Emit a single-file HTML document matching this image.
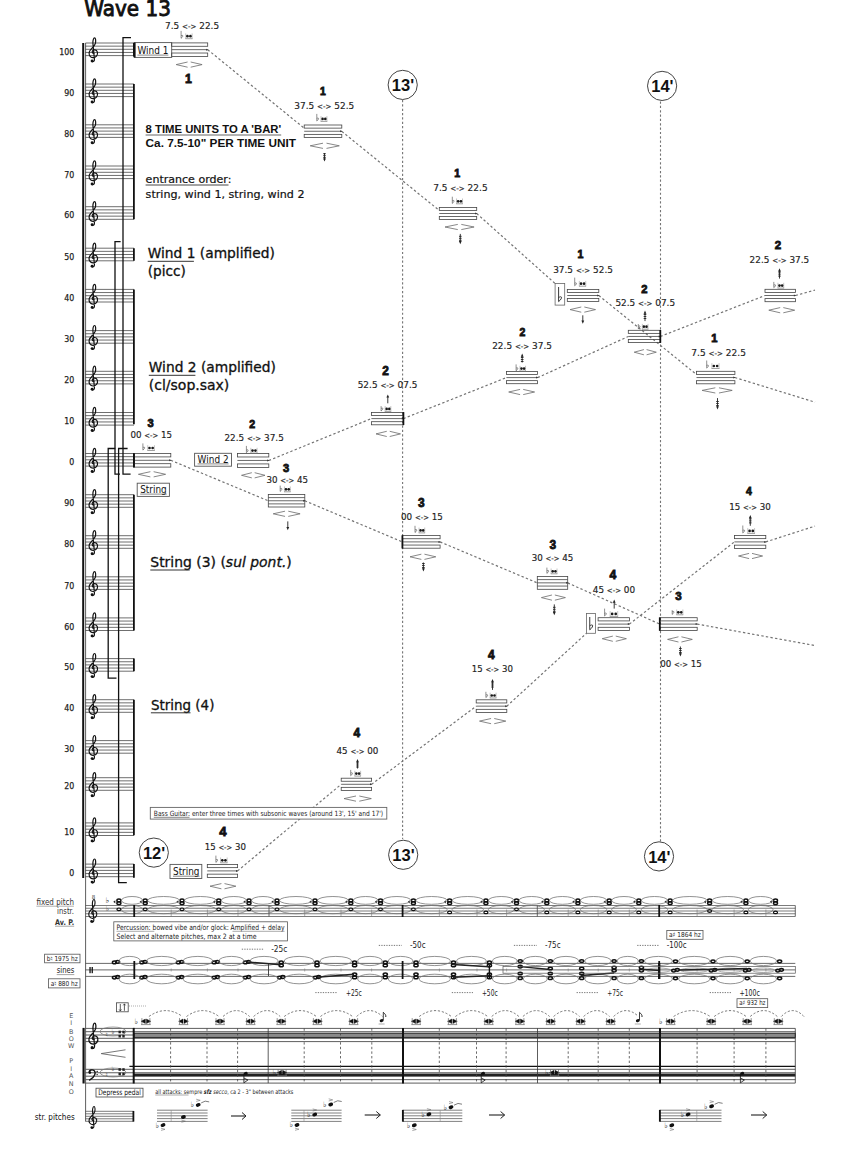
<!DOCTYPE html>
<html><head><meta charset="utf-8"><title>Wave 13</title><style>html,body{margin:0;padding:0;background:#fff;}svg{display:block;}</style></head><body>
<svg width="850" height="1154" viewBox="0 0 850 1154"><rect x="0" y="0" width="850" height="1154" fill="#fff"/>
<text x="84.3" y="15.9" font-size="21" font-family="'DejaVu Sans','Liberation Sans',sans-serif" fill="#111" textLength="86.6" lengthAdjust="spacingAndGlyphs" stroke="#111" stroke-width="0.9">Wave 13</text>
<line x1="85.5" y1="43" x2="134" y2="43" stroke="#555" stroke-width="0.85"/>
<line x1="85.5" y1="46.15" x2="134" y2="46.15" stroke="#555" stroke-width="0.85"/>
<line x1="85.5" y1="49.3" x2="134" y2="49.3" stroke="#555" stroke-width="0.85"/>
<line x1="85.5" y1="52.45" x2="134" y2="52.45" stroke="#555" stroke-width="0.85"/>
<line x1="85.5" y1="55.6" x2="134" y2="55.6" stroke="#555" stroke-width="0.85"/>
<g transform="translate(88.6 38.7) scale(1)"><path d="M5.6 14.6 C4.2 15 3.2 13.8 3.8 12.4 C4.6 10.6 8 10.6 8.8 13.4 C9.6 16.6 7 19.2 4.4 19 C1.6 18.8 0 16.4 0.6 13.6 C1.4 10.2 5.8 8.2 6.8 4.6 C7.4 2.2 7 -0.8 6 -0.8 C4.8 -0.8 4.2 1.8 4.3 4.6 L5.8 20.4 C6 22.2 5 23.2 3.9 23" fill="none" stroke="#111" stroke-width="1.2" stroke-linecap="round" stroke-linejoin="round"/><circle cx="3.5" cy="22.3" r="1.45" fill="#111"/></g>
<text x="74.3" y="54.7" font-size="9" font-family="'DejaVu Sans','Liberation Sans',sans-serif" fill="#222" text-anchor="end" textLength="15" lengthAdjust="spacingAndGlyphs" stroke="#222" stroke-width="0.25">100</text>
<line x1="85.5" y1="84" x2="134" y2="84" stroke="#555" stroke-width="0.85"/>
<line x1="85.5" y1="87.15" x2="134" y2="87.15" stroke="#555" stroke-width="0.85"/>
<line x1="85.5" y1="90.3" x2="134" y2="90.3" stroke="#555" stroke-width="0.85"/>
<line x1="85.5" y1="93.45" x2="134" y2="93.45" stroke="#555" stroke-width="0.85"/>
<line x1="85.5" y1="96.6" x2="134" y2="96.6" stroke="#555" stroke-width="0.85"/>
<g transform="translate(88.6 79.7) scale(1)"><path d="M5.6 14.6 C4.2 15 3.2 13.8 3.8 12.4 C4.6 10.6 8 10.6 8.8 13.4 C9.6 16.6 7 19.2 4.4 19 C1.6 18.8 0 16.4 0.6 13.6 C1.4 10.2 5.8 8.2 6.8 4.6 C7.4 2.2 7 -0.8 6 -0.8 C4.8 -0.8 4.2 1.8 4.3 4.6 L5.8 20.4 C6 22.2 5 23.2 3.9 23" fill="none" stroke="#111" stroke-width="1.2" stroke-linecap="round" stroke-linejoin="round"/><circle cx="3.5" cy="22.3" r="1.45" fill="#111"/></g>
<text x="74.3" y="95.7" font-size="9" font-family="'DejaVu Sans','Liberation Sans',sans-serif" fill="#222" text-anchor="end" textLength="10" lengthAdjust="spacingAndGlyphs" stroke="#222" stroke-width="0.25">90</text>
<line x1="85.5" y1="124.8" x2="134" y2="124.8" stroke="#555" stroke-width="0.85"/>
<line x1="85.5" y1="127.95" x2="134" y2="127.95" stroke="#555" stroke-width="0.85"/>
<line x1="85.5" y1="131.1" x2="134" y2="131.1" stroke="#555" stroke-width="0.85"/>
<line x1="85.5" y1="134.25" x2="134" y2="134.25" stroke="#555" stroke-width="0.85"/>
<line x1="85.5" y1="137.4" x2="134" y2="137.4" stroke="#555" stroke-width="0.85"/>
<g transform="translate(88.6 120.5) scale(1)"><path d="M5.6 14.6 C4.2 15 3.2 13.8 3.8 12.4 C4.6 10.6 8 10.6 8.8 13.4 C9.6 16.6 7 19.2 4.4 19 C1.6 18.8 0 16.4 0.6 13.6 C1.4 10.2 5.8 8.2 6.8 4.6 C7.4 2.2 7 -0.8 6 -0.8 C4.8 -0.8 4.2 1.8 4.3 4.6 L5.8 20.4 C6 22.2 5 23.2 3.9 23" fill="none" stroke="#111" stroke-width="1.2" stroke-linecap="round" stroke-linejoin="round"/><circle cx="3.5" cy="22.3" r="1.45" fill="#111"/></g>
<text x="74.3" y="136.5" font-size="9" font-family="'DejaVu Sans','Liberation Sans',sans-serif" fill="#222" text-anchor="end" textLength="10" lengthAdjust="spacingAndGlyphs" stroke="#222" stroke-width="0.25">80</text>
<line x1="85.5" y1="166" x2="134" y2="166" stroke="#555" stroke-width="0.85"/>
<line x1="85.5" y1="169.15" x2="134" y2="169.15" stroke="#555" stroke-width="0.85"/>
<line x1="85.5" y1="172.3" x2="134" y2="172.3" stroke="#555" stroke-width="0.85"/>
<line x1="85.5" y1="175.45" x2="134" y2="175.45" stroke="#555" stroke-width="0.85"/>
<line x1="85.5" y1="178.6" x2="134" y2="178.6" stroke="#555" stroke-width="0.85"/>
<g transform="translate(88.6 161.7) scale(1)"><path d="M5.6 14.6 C4.2 15 3.2 13.8 3.8 12.4 C4.6 10.6 8 10.6 8.8 13.4 C9.6 16.6 7 19.2 4.4 19 C1.6 18.8 0 16.4 0.6 13.6 C1.4 10.2 5.8 8.2 6.8 4.6 C7.4 2.2 7 -0.8 6 -0.8 C4.8 -0.8 4.2 1.8 4.3 4.6 L5.8 20.4 C6 22.2 5 23.2 3.9 23" fill="none" stroke="#111" stroke-width="1.2" stroke-linecap="round" stroke-linejoin="round"/><circle cx="3.5" cy="22.3" r="1.45" fill="#111"/></g>
<text x="74.3" y="177.7" font-size="9" font-family="'DejaVu Sans','Liberation Sans',sans-serif" fill="#222" text-anchor="end" textLength="10" lengthAdjust="spacingAndGlyphs" stroke="#222" stroke-width="0.25">70</text>
<line x1="85.5" y1="206.7" x2="134" y2="206.7" stroke="#555" stroke-width="0.85"/>
<line x1="85.5" y1="209.85" x2="134" y2="209.85" stroke="#555" stroke-width="0.85"/>
<line x1="85.5" y1="213" x2="134" y2="213" stroke="#555" stroke-width="0.85"/>
<line x1="85.5" y1="216.15" x2="134" y2="216.15" stroke="#555" stroke-width="0.85"/>
<line x1="85.5" y1="219.3" x2="134" y2="219.3" stroke="#555" stroke-width="0.85"/>
<g transform="translate(88.6 202.4) scale(1)"><path d="M5.6 14.6 C4.2 15 3.2 13.8 3.8 12.4 C4.6 10.6 8 10.6 8.8 13.4 C9.6 16.6 7 19.2 4.4 19 C1.6 18.8 0 16.4 0.6 13.6 C1.4 10.2 5.8 8.2 6.8 4.6 C7.4 2.2 7 -0.8 6 -0.8 C4.8 -0.8 4.2 1.8 4.3 4.6 L5.8 20.4 C6 22.2 5 23.2 3.9 23" fill="none" stroke="#111" stroke-width="1.2" stroke-linecap="round" stroke-linejoin="round"/><circle cx="3.5" cy="22.3" r="1.45" fill="#111"/></g>
<text x="74.3" y="218.4" font-size="9" font-family="'DejaVu Sans','Liberation Sans',sans-serif" fill="#222" text-anchor="end" textLength="10" lengthAdjust="spacingAndGlyphs" stroke="#222" stroke-width="0.25">60</text>
<line x1="85.5" y1="248.2" x2="134" y2="248.2" stroke="#555" stroke-width="0.85"/>
<line x1="85.5" y1="251.35" x2="134" y2="251.35" stroke="#555" stroke-width="0.85"/>
<line x1="85.5" y1="254.5" x2="134" y2="254.5" stroke="#555" stroke-width="0.85"/>
<line x1="85.5" y1="257.65" x2="134" y2="257.65" stroke="#555" stroke-width="0.85"/>
<line x1="85.5" y1="260.8" x2="134" y2="260.8" stroke="#555" stroke-width="0.85"/>
<g transform="translate(88.6 243.9) scale(1)"><path d="M5.6 14.6 C4.2 15 3.2 13.8 3.8 12.4 C4.6 10.6 8 10.6 8.8 13.4 C9.6 16.6 7 19.2 4.4 19 C1.6 18.8 0 16.4 0.6 13.6 C1.4 10.2 5.8 8.2 6.8 4.6 C7.4 2.2 7 -0.8 6 -0.8 C4.8 -0.8 4.2 1.8 4.3 4.6 L5.8 20.4 C6 22.2 5 23.2 3.9 23" fill="none" stroke="#111" stroke-width="1.2" stroke-linecap="round" stroke-linejoin="round"/><circle cx="3.5" cy="22.3" r="1.45" fill="#111"/></g>
<text x="74.3" y="259.9" font-size="9" font-family="'DejaVu Sans','Liberation Sans',sans-serif" fill="#222" text-anchor="end" textLength="10" lengthAdjust="spacingAndGlyphs" stroke="#222" stroke-width="0.25">50</text>
<line x1="85.5" y1="289.4" x2="134" y2="289.4" stroke="#555" stroke-width="0.85"/>
<line x1="85.5" y1="292.55" x2="134" y2="292.55" stroke="#555" stroke-width="0.85"/>
<line x1="85.5" y1="295.7" x2="134" y2="295.7" stroke="#555" stroke-width="0.85"/>
<line x1="85.5" y1="298.85" x2="134" y2="298.85" stroke="#555" stroke-width="0.85"/>
<line x1="85.5" y1="302" x2="134" y2="302" stroke="#555" stroke-width="0.85"/>
<g transform="translate(88.6 285.1) scale(1)"><path d="M5.6 14.6 C4.2 15 3.2 13.8 3.8 12.4 C4.6 10.6 8 10.6 8.8 13.4 C9.6 16.6 7 19.2 4.4 19 C1.6 18.8 0 16.4 0.6 13.6 C1.4 10.2 5.8 8.2 6.8 4.6 C7.4 2.2 7 -0.8 6 -0.8 C4.8 -0.8 4.2 1.8 4.3 4.6 L5.8 20.4 C6 22.2 5 23.2 3.9 23" fill="none" stroke="#111" stroke-width="1.2" stroke-linecap="round" stroke-linejoin="round"/><circle cx="3.5" cy="22.3" r="1.45" fill="#111"/></g>
<text x="74.3" y="301.1" font-size="9" font-family="'DejaVu Sans','Liberation Sans',sans-serif" fill="#222" text-anchor="end" textLength="10" lengthAdjust="spacingAndGlyphs" stroke="#222" stroke-width="0.25">40</text>
<line x1="85.5" y1="330.6" x2="134" y2="330.6" stroke="#555" stroke-width="0.85"/>
<line x1="85.5" y1="333.75" x2="134" y2="333.75" stroke="#555" stroke-width="0.85"/>
<line x1="85.5" y1="336.9" x2="134" y2="336.9" stroke="#555" stroke-width="0.85"/>
<line x1="85.5" y1="340.05" x2="134" y2="340.05" stroke="#555" stroke-width="0.85"/>
<line x1="85.5" y1="343.2" x2="134" y2="343.2" stroke="#555" stroke-width="0.85"/>
<g transform="translate(88.6 326.3) scale(1)"><path d="M5.6 14.6 C4.2 15 3.2 13.8 3.8 12.4 C4.6 10.6 8 10.6 8.8 13.4 C9.6 16.6 7 19.2 4.4 19 C1.6 18.8 0 16.4 0.6 13.6 C1.4 10.2 5.8 8.2 6.8 4.6 C7.4 2.2 7 -0.8 6 -0.8 C4.8 -0.8 4.2 1.8 4.3 4.6 L5.8 20.4 C6 22.2 5 23.2 3.9 23" fill="none" stroke="#111" stroke-width="1.2" stroke-linecap="round" stroke-linejoin="round"/><circle cx="3.5" cy="22.3" r="1.45" fill="#111"/></g>
<text x="74.3" y="342.3" font-size="9" font-family="'DejaVu Sans','Liberation Sans',sans-serif" fill="#222" text-anchor="end" textLength="10" lengthAdjust="spacingAndGlyphs" stroke="#222" stroke-width="0.25">30</text>
<line x1="85.5" y1="371.3" x2="134" y2="371.3" stroke="#555" stroke-width="0.85"/>
<line x1="85.5" y1="374.45" x2="134" y2="374.45" stroke="#555" stroke-width="0.85"/>
<line x1="85.5" y1="377.6" x2="134" y2="377.6" stroke="#555" stroke-width="0.85"/>
<line x1="85.5" y1="380.75" x2="134" y2="380.75" stroke="#555" stroke-width="0.85"/>
<line x1="85.5" y1="383.9" x2="134" y2="383.9" stroke="#555" stroke-width="0.85"/>
<g transform="translate(88.6 367) scale(1)"><path d="M5.6 14.6 C4.2 15 3.2 13.8 3.8 12.4 C4.6 10.6 8 10.6 8.8 13.4 C9.6 16.6 7 19.2 4.4 19 C1.6 18.8 0 16.4 0.6 13.6 C1.4 10.2 5.8 8.2 6.8 4.6 C7.4 2.2 7 -0.8 6 -0.8 C4.8 -0.8 4.2 1.8 4.3 4.6 L5.8 20.4 C6 22.2 5 23.2 3.9 23" fill="none" stroke="#111" stroke-width="1.2" stroke-linecap="round" stroke-linejoin="round"/><circle cx="3.5" cy="22.3" r="1.45" fill="#111"/></g>
<text x="74.3" y="383" font-size="9" font-family="'DejaVu Sans','Liberation Sans',sans-serif" fill="#222" text-anchor="end" textLength="10" lengthAdjust="spacingAndGlyphs" stroke="#222" stroke-width="0.25">20</text>
<line x1="85.5" y1="412.5" x2="134" y2="412.5" stroke="#555" stroke-width="0.85"/>
<line x1="85.5" y1="415.65" x2="134" y2="415.65" stroke="#555" stroke-width="0.85"/>
<line x1="85.5" y1="418.8" x2="134" y2="418.8" stroke="#555" stroke-width="0.85"/>
<line x1="85.5" y1="421.95" x2="134" y2="421.95" stroke="#555" stroke-width="0.85"/>
<line x1="85.5" y1="425.1" x2="134" y2="425.1" stroke="#555" stroke-width="0.85"/>
<g transform="translate(88.6 408.2) scale(1)"><path d="M5.6 14.6 C4.2 15 3.2 13.8 3.8 12.4 C4.6 10.6 8 10.6 8.8 13.4 C9.6 16.6 7 19.2 4.4 19 C1.6 18.8 0 16.4 0.6 13.6 C1.4 10.2 5.8 8.2 6.8 4.6 C7.4 2.2 7 -0.8 6 -0.8 C4.8 -0.8 4.2 1.8 4.3 4.6 L5.8 20.4 C6 22.2 5 23.2 3.9 23" fill="none" stroke="#111" stroke-width="1.2" stroke-linecap="round" stroke-linejoin="round"/><circle cx="3.5" cy="22.3" r="1.45" fill="#111"/></g>
<text x="74.3" y="424.2" font-size="9" font-family="'DejaVu Sans','Liberation Sans',sans-serif" fill="#222" text-anchor="end" textLength="10" lengthAdjust="spacingAndGlyphs" stroke="#222" stroke-width="0.25">10</text>
<line x1="85.5" y1="453.5" x2="134" y2="453.5" stroke="#555" stroke-width="0.85"/>
<line x1="85.5" y1="456.65" x2="134" y2="456.65" stroke="#555" stroke-width="0.85"/>
<line x1="85.5" y1="459.8" x2="134" y2="459.8" stroke="#555" stroke-width="0.85"/>
<line x1="85.5" y1="462.95" x2="134" y2="462.95" stroke="#555" stroke-width="0.85"/>
<line x1="85.5" y1="466.1" x2="134" y2="466.1" stroke="#555" stroke-width="0.85"/>
<g transform="translate(88.6 449.2) scale(1)"><path d="M5.6 14.6 C4.2 15 3.2 13.8 3.8 12.4 C4.6 10.6 8 10.6 8.8 13.4 C9.6 16.6 7 19.2 4.4 19 C1.6 18.8 0 16.4 0.6 13.6 C1.4 10.2 5.8 8.2 6.8 4.6 C7.4 2.2 7 -0.8 6 -0.8 C4.8 -0.8 4.2 1.8 4.3 4.6 L5.8 20.4 C6 22.2 5 23.2 3.9 23" fill="none" stroke="#111" stroke-width="1.2" stroke-linecap="round" stroke-linejoin="round"/><circle cx="3.5" cy="22.3" r="1.45" fill="#111"/></g>
<text x="74.3" y="465.2" font-size="9" font-family="'DejaVu Sans','Liberation Sans',sans-serif" fill="#222" text-anchor="end" textLength="5" lengthAdjust="spacingAndGlyphs" stroke="#222" stroke-width="0.25">0</text>
<line x1="85.5" y1="494.7" x2="134" y2="494.7" stroke="#555" stroke-width="0.85"/>
<line x1="85.5" y1="497.85" x2="134" y2="497.85" stroke="#555" stroke-width="0.85"/>
<line x1="85.5" y1="501" x2="134" y2="501" stroke="#555" stroke-width="0.85"/>
<line x1="85.5" y1="504.15" x2="134" y2="504.15" stroke="#555" stroke-width="0.85"/>
<line x1="85.5" y1="507.3" x2="134" y2="507.3" stroke="#555" stroke-width="0.85"/>
<g transform="translate(88.6 490.4) scale(1)"><path d="M5.6 14.6 C4.2 15 3.2 13.8 3.8 12.4 C4.6 10.6 8 10.6 8.8 13.4 C9.6 16.6 7 19.2 4.4 19 C1.6 18.8 0 16.4 0.6 13.6 C1.4 10.2 5.8 8.2 6.8 4.6 C7.4 2.2 7 -0.8 6 -0.8 C4.8 -0.8 4.2 1.8 4.3 4.6 L5.8 20.4 C6 22.2 5 23.2 3.9 23" fill="none" stroke="#111" stroke-width="1.2" stroke-linecap="round" stroke-linejoin="round"/><circle cx="3.5" cy="22.3" r="1.45" fill="#111"/></g>
<text x="74.3" y="506.4" font-size="9" font-family="'DejaVu Sans','Liberation Sans',sans-serif" fill="#222" text-anchor="end" textLength="10" lengthAdjust="spacingAndGlyphs" stroke="#222" stroke-width="0.25">90</text>
<line x1="85.5" y1="535.7" x2="134" y2="535.7" stroke="#555" stroke-width="0.85"/>
<line x1="85.5" y1="538.85" x2="134" y2="538.85" stroke="#555" stroke-width="0.85"/>
<line x1="85.5" y1="542" x2="134" y2="542" stroke="#555" stroke-width="0.85"/>
<line x1="85.5" y1="545.15" x2="134" y2="545.15" stroke="#555" stroke-width="0.85"/>
<line x1="85.5" y1="548.3" x2="134" y2="548.3" stroke="#555" stroke-width="0.85"/>
<g transform="translate(88.6 531.4) scale(1)"><path d="M5.6 14.6 C4.2 15 3.2 13.8 3.8 12.4 C4.6 10.6 8 10.6 8.8 13.4 C9.6 16.6 7 19.2 4.4 19 C1.6 18.8 0 16.4 0.6 13.6 C1.4 10.2 5.8 8.2 6.8 4.6 C7.4 2.2 7 -0.8 6 -0.8 C4.8 -0.8 4.2 1.8 4.3 4.6 L5.8 20.4 C6 22.2 5 23.2 3.9 23" fill="none" stroke="#111" stroke-width="1.2" stroke-linecap="round" stroke-linejoin="round"/><circle cx="3.5" cy="22.3" r="1.45" fill="#111"/></g>
<text x="74.3" y="547.4" font-size="9" font-family="'DejaVu Sans','Liberation Sans',sans-serif" fill="#222" text-anchor="end" textLength="10" lengthAdjust="spacingAndGlyphs" stroke="#222" stroke-width="0.25">80</text>
<line x1="85.5" y1="576.8" x2="134" y2="576.8" stroke="#555" stroke-width="0.85"/>
<line x1="85.5" y1="579.95" x2="134" y2="579.95" stroke="#555" stroke-width="0.85"/>
<line x1="85.5" y1="583.1" x2="134" y2="583.1" stroke="#555" stroke-width="0.85"/>
<line x1="85.5" y1="586.25" x2="134" y2="586.25" stroke="#555" stroke-width="0.85"/>
<line x1="85.5" y1="589.4" x2="134" y2="589.4" stroke="#555" stroke-width="0.85"/>
<g transform="translate(88.6 572.5) scale(1)"><path d="M5.6 14.6 C4.2 15 3.2 13.8 3.8 12.4 C4.6 10.6 8 10.6 8.8 13.4 C9.6 16.6 7 19.2 4.4 19 C1.6 18.8 0 16.4 0.6 13.6 C1.4 10.2 5.8 8.2 6.8 4.6 C7.4 2.2 7 -0.8 6 -0.8 C4.8 -0.8 4.2 1.8 4.3 4.6 L5.8 20.4 C6 22.2 5 23.2 3.9 23" fill="none" stroke="#111" stroke-width="1.2" stroke-linecap="round" stroke-linejoin="round"/><circle cx="3.5" cy="22.3" r="1.45" fill="#111"/></g>
<text x="74.3" y="588.5" font-size="9" font-family="'DejaVu Sans','Liberation Sans',sans-serif" fill="#222" text-anchor="end" textLength="10" lengthAdjust="spacingAndGlyphs" stroke="#222" stroke-width="0.25">70</text>
<line x1="85.5" y1="617.9" x2="134" y2="617.9" stroke="#555" stroke-width="0.85"/>
<line x1="85.5" y1="621.05" x2="134" y2="621.05" stroke="#555" stroke-width="0.85"/>
<line x1="85.5" y1="624.2" x2="134" y2="624.2" stroke="#555" stroke-width="0.85"/>
<line x1="85.5" y1="627.35" x2="134" y2="627.35" stroke="#555" stroke-width="0.85"/>
<line x1="85.5" y1="630.5" x2="134" y2="630.5" stroke="#555" stroke-width="0.85"/>
<g transform="translate(88.6 613.6) scale(1)"><path d="M5.6 14.6 C4.2 15 3.2 13.8 3.8 12.4 C4.6 10.6 8 10.6 8.8 13.4 C9.6 16.6 7 19.2 4.4 19 C1.6 18.8 0 16.4 0.6 13.6 C1.4 10.2 5.8 8.2 6.8 4.6 C7.4 2.2 7 -0.8 6 -0.8 C4.8 -0.8 4.2 1.8 4.3 4.6 L5.8 20.4 C6 22.2 5 23.2 3.9 23" fill="none" stroke="#111" stroke-width="1.2" stroke-linecap="round" stroke-linejoin="round"/><circle cx="3.5" cy="22.3" r="1.45" fill="#111"/></g>
<text x="74.3" y="629.6" font-size="9" font-family="'DejaVu Sans','Liberation Sans',sans-serif" fill="#222" text-anchor="end" textLength="10" lengthAdjust="spacingAndGlyphs" stroke="#222" stroke-width="0.25">60</text>
<line x1="85.5" y1="658.6" x2="134" y2="658.6" stroke="#555" stroke-width="0.85"/>
<line x1="85.5" y1="661.75" x2="134" y2="661.75" stroke="#555" stroke-width="0.85"/>
<line x1="85.5" y1="664.9" x2="134" y2="664.9" stroke="#555" stroke-width="0.85"/>
<line x1="85.5" y1="668.05" x2="134" y2="668.05" stroke="#555" stroke-width="0.85"/>
<line x1="85.5" y1="671.2" x2="134" y2="671.2" stroke="#555" stroke-width="0.85"/>
<g transform="translate(88.6 654.3) scale(1)"><path d="M5.6 14.6 C4.2 15 3.2 13.8 3.8 12.4 C4.6 10.6 8 10.6 8.8 13.4 C9.6 16.6 7 19.2 4.4 19 C1.6 18.8 0 16.4 0.6 13.6 C1.4 10.2 5.8 8.2 6.8 4.6 C7.4 2.2 7 -0.8 6 -0.8 C4.8 -0.8 4.2 1.8 4.3 4.6 L5.8 20.4 C6 22.2 5 23.2 3.9 23" fill="none" stroke="#111" stroke-width="1.2" stroke-linecap="round" stroke-linejoin="round"/><circle cx="3.5" cy="22.3" r="1.45" fill="#111"/></g>
<text x="74.3" y="670.3" font-size="9" font-family="'DejaVu Sans','Liberation Sans',sans-serif" fill="#222" text-anchor="end" textLength="10" lengthAdjust="spacingAndGlyphs" stroke="#222" stroke-width="0.25">50</text>
<line x1="85.5" y1="699.7" x2="134" y2="699.7" stroke="#555" stroke-width="0.85"/>
<line x1="85.5" y1="702.85" x2="134" y2="702.85" stroke="#555" stroke-width="0.85"/>
<line x1="85.5" y1="706" x2="134" y2="706" stroke="#555" stroke-width="0.85"/>
<line x1="85.5" y1="709.15" x2="134" y2="709.15" stroke="#555" stroke-width="0.85"/>
<line x1="85.5" y1="712.3" x2="134" y2="712.3" stroke="#555" stroke-width="0.85"/>
<g transform="translate(88.6 695.4) scale(1)"><path d="M5.6 14.6 C4.2 15 3.2 13.8 3.8 12.4 C4.6 10.6 8 10.6 8.8 13.4 C9.6 16.6 7 19.2 4.4 19 C1.6 18.8 0 16.4 0.6 13.6 C1.4 10.2 5.8 8.2 6.8 4.6 C7.4 2.2 7 -0.8 6 -0.8 C4.8 -0.8 4.2 1.8 4.3 4.6 L5.8 20.4 C6 22.2 5 23.2 3.9 23" fill="none" stroke="#111" stroke-width="1.2" stroke-linecap="round" stroke-linejoin="round"/><circle cx="3.5" cy="22.3" r="1.45" fill="#111"/></g>
<text x="74.3" y="711.4" font-size="9" font-family="'DejaVu Sans','Liberation Sans',sans-serif" fill="#222" text-anchor="end" textLength="10" lengthAdjust="spacingAndGlyphs" stroke="#222" stroke-width="0.25">40</text>
<line x1="85.5" y1="740.6" x2="134" y2="740.6" stroke="#555" stroke-width="0.85"/>
<line x1="85.5" y1="743.75" x2="134" y2="743.75" stroke="#555" stroke-width="0.85"/>
<line x1="85.5" y1="746.9" x2="134" y2="746.9" stroke="#555" stroke-width="0.85"/>
<line x1="85.5" y1="750.05" x2="134" y2="750.05" stroke="#555" stroke-width="0.85"/>
<line x1="85.5" y1="753.2" x2="134" y2="753.2" stroke="#555" stroke-width="0.85"/>
<g transform="translate(88.6 736.3) scale(1)"><path d="M5.6 14.6 C4.2 15 3.2 13.8 3.8 12.4 C4.6 10.6 8 10.6 8.8 13.4 C9.6 16.6 7 19.2 4.4 19 C1.6 18.8 0 16.4 0.6 13.6 C1.4 10.2 5.8 8.2 6.8 4.6 C7.4 2.2 7 -0.8 6 -0.8 C4.8 -0.8 4.2 1.8 4.3 4.6 L5.8 20.4 C6 22.2 5 23.2 3.9 23" fill="none" stroke="#111" stroke-width="1.2" stroke-linecap="round" stroke-linejoin="round"/><circle cx="3.5" cy="22.3" r="1.45" fill="#111"/></g>
<text x="74.3" y="752.3" font-size="9" font-family="'DejaVu Sans','Liberation Sans',sans-serif" fill="#222" text-anchor="end" textLength="10" lengthAdjust="spacingAndGlyphs" stroke="#222" stroke-width="0.25">30</text>
<line x1="85.5" y1="777.7" x2="134" y2="777.7" stroke="#555" stroke-width="0.85"/>
<line x1="85.5" y1="780.85" x2="134" y2="780.85" stroke="#555" stroke-width="0.85"/>
<line x1="85.5" y1="784" x2="134" y2="784" stroke="#555" stroke-width="0.85"/>
<line x1="85.5" y1="787.15" x2="134" y2="787.15" stroke="#555" stroke-width="0.85"/>
<line x1="85.5" y1="790.3" x2="134" y2="790.3" stroke="#555" stroke-width="0.85"/>
<g transform="translate(88.6 773.4) scale(1)"><path d="M5.6 14.6 C4.2 15 3.2 13.8 3.8 12.4 C4.6 10.6 8 10.6 8.8 13.4 C9.6 16.6 7 19.2 4.4 19 C1.6 18.8 0 16.4 0.6 13.6 C1.4 10.2 5.8 8.2 6.8 4.6 C7.4 2.2 7 -0.8 6 -0.8 C4.8 -0.8 4.2 1.8 4.3 4.6 L5.8 20.4 C6 22.2 5 23.2 3.9 23" fill="none" stroke="#111" stroke-width="1.2" stroke-linecap="round" stroke-linejoin="round"/><circle cx="3.5" cy="22.3" r="1.45" fill="#111"/></g>
<text x="74.3" y="789.4" font-size="9" font-family="'DejaVu Sans','Liberation Sans',sans-serif" fill="#222" text-anchor="end" textLength="10" lengthAdjust="spacingAndGlyphs" stroke="#222" stroke-width="0.25">20</text>
<line x1="85.5" y1="822.9" x2="134" y2="822.9" stroke="#555" stroke-width="0.85"/>
<line x1="85.5" y1="826.05" x2="134" y2="826.05" stroke="#555" stroke-width="0.85"/>
<line x1="85.5" y1="829.2" x2="134" y2="829.2" stroke="#555" stroke-width="0.85"/>
<line x1="85.5" y1="832.35" x2="134" y2="832.35" stroke="#555" stroke-width="0.85"/>
<line x1="85.5" y1="835.5" x2="134" y2="835.5" stroke="#555" stroke-width="0.85"/>
<g transform="translate(88.6 818.6) scale(1)"><path d="M5.6 14.6 C4.2 15 3.2 13.8 3.8 12.4 C4.6 10.6 8 10.6 8.8 13.4 C9.6 16.6 7 19.2 4.4 19 C1.6 18.8 0 16.4 0.6 13.6 C1.4 10.2 5.8 8.2 6.8 4.6 C7.4 2.2 7 -0.8 6 -0.8 C4.8 -0.8 4.2 1.8 4.3 4.6 L5.8 20.4 C6 22.2 5 23.2 3.9 23" fill="none" stroke="#111" stroke-width="1.2" stroke-linecap="round" stroke-linejoin="round"/><circle cx="3.5" cy="22.3" r="1.45" fill="#111"/></g>
<text x="74.3" y="834.6" font-size="9" font-family="'DejaVu Sans','Liberation Sans',sans-serif" fill="#222" text-anchor="end" textLength="10" lengthAdjust="spacingAndGlyphs" stroke="#222" stroke-width="0.25">10</text>
<line x1="85.5" y1="864.1" x2="134" y2="864.1" stroke="#555" stroke-width="0.85"/>
<line x1="85.5" y1="867.25" x2="134" y2="867.25" stroke="#555" stroke-width="0.85"/>
<line x1="85.5" y1="870.4" x2="134" y2="870.4" stroke="#555" stroke-width="0.85"/>
<line x1="85.5" y1="873.55" x2="134" y2="873.55" stroke="#555" stroke-width="0.85"/>
<line x1="85.5" y1="876.7" x2="134" y2="876.7" stroke="#555" stroke-width="0.85"/>
<g transform="translate(88.6 859.8) scale(1)"><path d="M5.6 14.6 C4.2 15 3.2 13.8 3.8 12.4 C4.6 10.6 8 10.6 8.8 13.4 C9.6 16.6 7 19.2 4.4 19 C1.6 18.8 0 16.4 0.6 13.6 C1.4 10.2 5.8 8.2 6.8 4.6 C7.4 2.2 7 -0.8 6 -0.8 C4.8 -0.8 4.2 1.8 4.3 4.6 L5.8 20.4 C6 22.2 5 23.2 3.9 23" fill="none" stroke="#111" stroke-width="1.2" stroke-linecap="round" stroke-linejoin="round"/><circle cx="3.5" cy="22.3" r="1.45" fill="#111"/></g>
<text x="74.3" y="875.8" font-size="9" font-family="'DejaVu Sans','Liberation Sans',sans-serif" fill="#222" text-anchor="end" textLength="5" lengthAdjust="spacingAndGlyphs" stroke="#222" stroke-width="0.25">0</text>
<line x1="83.2" y1="43" x2="83.2" y2="878" stroke="#111" stroke-width="2"/>
<line x1="85.6" y1="43" x2="85.6" y2="1121.5" stroke="#333" stroke-width="0.8"/>
<line x1="133.9" y1="43" x2="133.9" y2="56.4" stroke="#111" stroke-width="1.8"/>
<line x1="133.9" y1="84" x2="133.9" y2="219.3" stroke="#111" stroke-width="1.8"/>
<line x1="133.9" y1="248.2" x2="133.9" y2="260.8" stroke="#111" stroke-width="1.8"/>
<line x1="133.9" y1="289.4" x2="133.9" y2="424.2" stroke="#111" stroke-width="1.8"/>
<line x1="133.9" y1="453.5" x2="133.9" y2="467.1" stroke="#111" stroke-width="1.8"/>
<line x1="133.9" y1="494.7" x2="133.9" y2="630.4" stroke="#111" stroke-width="1.8"/>
<line x1="133.9" y1="658.6" x2="133.9" y2="671.2" stroke="#111" stroke-width="1.8"/>
<line x1="133.9" y1="699.7" x2="133.9" y2="835.2" stroke="#111" stroke-width="1.8"/>
<line x1="133.9" y1="864.1" x2="133.9" y2="877.7" stroke="#111" stroke-width="1.8"/>
<path d="M131 37.6 H123 V474.1 H130.6" fill="none" stroke="#111" stroke-width="1.3"/>
<path d="M120.6 241.6 H115 V474.1 H120" fill="none" stroke="#111" stroke-width="1.3"/>
<path d="M115.3 448.5 H108.2 V678.2 H116.5" fill="none" stroke="#111" stroke-width="1.3"/>
<path d="M127.6 448.5 H118.6 V882.6 H126.8" fill="none" stroke="#111" stroke-width="1.3"/>
<text x="145.6" y="132.8" font-size="11.1" font-family="'Liberation Sans',Arial,sans-serif" fill="#111" font-weight="bold" textLength="135.6" lengthAdjust="spacingAndGlyphs">8 TIME UNITS TO A 'BAR'</text>
<line x1="145.6" y1="135" x2="281.2" y2="135" stroke="#555" stroke-width="0.9"/>
<text x="145.6" y="147.2" font-size="11.1" font-family="'Liberation Sans',Arial,sans-serif" fill="#111" font-weight="bold" textLength="150.4" lengthAdjust="spacingAndGlyphs">Ca. 7.5-10" PER TIME UNIT</text>
<text x="145.6" y="183.1" font-size="10.6" font-family="'DejaVu Sans','Liberation Sans',sans-serif" fill="#111" textLength="85.8" lengthAdjust="spacingAndGlyphs" stroke="#111" stroke-width="0.2">entrance order:</text>
<line x1="145.6" y1="185" x2="228.5" y2="185" stroke="#333" stroke-width="0.9"/>
<text x="145.6" y="197.9" font-size="10.6" font-family="'DejaVu Sans','Liberation Sans',sans-serif" fill="#111" textLength="158.9" lengthAdjust="spacingAndGlyphs" stroke="#111" stroke-width="0.2">string, wind 1, string, wind 2</text>
<text x="147.7" y="258.3" font-size="13.3" font-family="'DejaVu Sans','Liberation Sans',sans-serif" fill="#111" textLength="127.1" lengthAdjust="spacingAndGlyphs" stroke="#111" stroke-width="0.3">Wind 1 (amplified)</text>
<line x1="147.7" y1="261.3" x2="193.9" y2="261.3" stroke="#333" stroke-width="1"/>
<text x="147.7" y="276.3" font-size="13.3" font-family="'DejaVu Sans','Liberation Sans',sans-serif" fill="#111" textLength="38.1" lengthAdjust="spacingAndGlyphs" stroke="#111" stroke-width="0.3">(picc)</text>
<text x="148.8" y="372.2" font-size="13.3" font-family="'DejaVu Sans','Liberation Sans',sans-serif" fill="#111" textLength="127.1" lengthAdjust="spacingAndGlyphs" stroke="#111" stroke-width="0.3">Wind 2 (amplified)</text>
<line x1="148.8" y1="375.3" x2="195.4" y2="375.3" stroke="#333" stroke-width="1"/>
<text x="148.8" y="390.3" font-size="13.3" font-family="'DejaVu Sans','Liberation Sans',sans-serif" fill="#111" textLength="80.5" lengthAdjust="spacingAndGlyphs" stroke="#111" stroke-width="0.3">(cl/sop.sax)</text>
<text x="150.3" y="567.1" font-size="13.3" font-family="'DejaVu Sans','Liberation Sans',sans-serif" fill="#111" stroke="#111" stroke-width="0.3" textLength="141.5" lengthAdjust="spacingAndGlyphs">String (3) (<tspan font-style="italic">sul pont.</tspan>)</text>
<line x1="150.3" y1="570" x2="189.7" y2="570" stroke="#333" stroke-width="1"/>
<text x="150.9" y="710.1" font-size="13.3" font-family="'DejaVu Sans','Liberation Sans',sans-serif" fill="#111" textLength="63.5" lengthAdjust="spacingAndGlyphs" stroke="#111" stroke-width="0.3">String (4)</text>
<line x1="150.9" y1="712.8" x2="190.5" y2="712.8" stroke="#333" stroke-width="1"/>
<line x1="402.6" y1="100" x2="402.6" y2="839" stroke="#747474" stroke-width="1.1" stroke-dasharray="2.2 2.14"/>
<line x1="660.5" y1="101.5" x2="660.5" y2="842" stroke="#747474" stroke-width="1.1" stroke-dasharray="2.2 2.14"/>
<circle cx="402.7" cy="84.9" r="14.6" fill="none" stroke="#444" stroke-width="1"/>
<text x="403" y="91.1" font-size="17" font-family="'Liberation Sans',Arial,sans-serif" fill="#111" text-anchor="middle" font-weight="bold" textLength="22.3" lengthAdjust="spacingAndGlyphs">13'</text>
<circle cx="403.2" cy="854.8" r="14.6" fill="none" stroke="#444" stroke-width="1"/>
<text x="403.5" y="861" font-size="17" font-family="'Liberation Sans',Arial,sans-serif" fill="#111" text-anchor="middle" font-weight="bold" textLength="22.3" lengthAdjust="spacingAndGlyphs">13'</text>
<circle cx="662.1" cy="85.9" r="14.6" fill="none" stroke="#444" stroke-width="1"/>
<text x="662.4" y="92.1" font-size="17" font-family="'Liberation Sans',Arial,sans-serif" fill="#111" text-anchor="middle" font-weight="bold" textLength="22.3" lengthAdjust="spacingAndGlyphs">14'</text>
<circle cx="659" cy="856.4" r="14.6" fill="none" stroke="#444" stroke-width="1"/>
<text x="659.3" y="862.6" font-size="17" font-family="'Liberation Sans',Arial,sans-serif" fill="#111" text-anchor="middle" font-weight="bold" textLength="22.3" lengthAdjust="spacingAndGlyphs">14'</text>
<circle cx="153.8" cy="852.6" r="14.6" fill="none" stroke="#444" stroke-width="1"/>
<text x="154.1" y="858.8" font-size="17" font-family="'Liberation Sans',Arial,sans-serif" fill="#111" text-anchor="middle" font-weight="bold" textLength="22.3" lengthAdjust="spacingAndGlyphs">12'</text>
<line x1="207.7" y1="49.7" x2="304.2" y2="128.2" stroke="#737373" stroke-width="1.2" stroke-dasharray="2.4 2.25"/>
<line x1="341.8" y1="131.4" x2="439.3" y2="210.5" stroke="#737373" stroke-width="1.2" stroke-dasharray="2.4 2.25"/>
<line x1="476.7" y1="213.5" x2="555.1" y2="283.5" stroke="#737373" stroke-width="1.2" stroke-dasharray="2.4 2.25"/>
<line x1="598.8" y1="295.5" x2="696.5" y2="374.5" stroke="#737373" stroke-width="1.2" stroke-dasharray="2.4 2.25"/>
<line x1="734.9" y1="377.5" x2="815" y2="402.2" stroke="#737373" stroke-width="1.2" stroke-dasharray="2.4 2.25"/>
<line x1="268.8" y1="460.5" x2="371.4" y2="418.6" stroke="#737373" stroke-width="1.2" stroke-dasharray="2.4 2.25"/>
<line x1="403.4" y1="418.6" x2="506.4" y2="377.6" stroke="#737373" stroke-width="1.2" stroke-dasharray="2.4 2.25"/>
<line x1="537.6" y1="377.6" x2="628.3" y2="336.5" stroke="#737373" stroke-width="1.2" stroke-dasharray="2.4 2.25"/>
<line x1="660.3" y1="336.5" x2="765" y2="295.5" stroke="#737373" stroke-width="1.2" stroke-dasharray="2.4 2.25"/>
<line x1="795.5" y1="295.5" x2="815" y2="290.1" stroke="#737373" stroke-width="1.2" stroke-dasharray="2.4 2.25"/>
<line x1="170.8" y1="460.3" x2="268.3" y2="500.8" stroke="#737373" stroke-width="1.2" stroke-dasharray="2.4 2.25"/>
<line x1="304.8" y1="500.8" x2="402.4" y2="541.9" stroke="#737373" stroke-width="1.2" stroke-dasharray="2.4 2.25"/>
<line x1="440.1" y1="541.9" x2="537.3" y2="582.9" stroke="#737373" stroke-width="1.2" stroke-dasharray="2.4 2.25"/>
<line x1="567.7" y1="582.9" x2="659.8" y2="624.1" stroke="#737373" stroke-width="1.2" stroke-dasharray="2.4 2.25"/>
<line x1="697.2" y1="624.1" x2="815" y2="645.5" stroke="#737373" stroke-width="1.2" stroke-dasharray="2.4 2.25"/>
<line x1="237.6" y1="870.9" x2="341.2" y2="784.3" stroke="#737373" stroke-width="1.2" stroke-dasharray="2.4 2.25"/>
<line x1="371.6" y1="784.3" x2="476.2" y2="706.2" stroke="#737373" stroke-width="1.2" stroke-dasharray="2.4 2.25"/>
<line x1="506.8" y1="706.2" x2="586.5" y2="633.3" stroke="#737373" stroke-width="1.2" stroke-dasharray="2.4 2.25"/>
<line x1="629.4" y1="624.1" x2="734.4" y2="541.9" stroke="#737373" stroke-width="1.2" stroke-dasharray="2.4 2.25"/>
<line x1="765.8" y1="541.9" x2="815" y2="526.1" stroke="#737373" stroke-width="1.2" stroke-dasharray="2.4 2.25"/>
<rect x="150.3" y="807.4" width="236.5" height="11.7" fill="#fff" stroke="#666" stroke-width="0.9"/>
<text x="153.8" y="816.3" font-size="7.2" font-family="'DejaVu Sans','Liberation Sans',sans-serif" fill="#222" textLength="229.4" lengthAdjust="spacingAndGlyphs">Bass Guitar: enter three times with subsonic waves (around 13', 15' and 17')</text>
<line x1="153.8" y1="817.3" x2="189.5" y2="817.3" stroke="#333" stroke-width="0.6"/>
<rect x="134.4" y="42.6" width="37.3" height="14.8" fill="none" stroke="#555" stroke-width="0.9"/>
<text x="137.4" y="54" font-size="9.6" font-family="'DejaVu Sans','Liberation Sans',sans-serif" fill="#111" textLength="31" lengthAdjust="spacingAndGlyphs">Wind 1</text>
<line x1="137.4" y1="55.1" x2="168.4" y2="55.1" stroke="#555" stroke-width="0.7"/>
<line x1="134.6" y1="42.6" x2="134.6" y2="57.4" stroke="#111" stroke-width="2"/>
<rect x="171.7" y="42.9" width="36" height="3.38" fill="none" stroke="#444" stroke-width="0.8"/>
<line x1="171.7" y1="49.65" x2="207.7" y2="49.65" stroke="#444" stroke-width="0.8"/>
<rect x="171.7" y="53.02" width="36" height="3.38" fill="none" stroke="#444" stroke-width="0.8"/>
<path d="M206.1 48.65 L208.3 49.65 L206.1 50.65 Z" fill="#333" stroke="none" stroke-width="1"/>
<text x="165" y="28.5" font-size="9.4" font-family="'DejaVu Sans','Liberation Sans',sans-serif" fill="#222" textLength="54.1" lengthAdjust="spacingAndGlyphs" stroke="#222" stroke-width="0.18">7.5 <tspan font-size="7.4">&lt;-&gt;</tspan> 22.5</text>
<path d="M181.1 30.9 V38.3 C183.5 36.5 183.3 34.5 181.1 35.7" fill="none" stroke="#444" stroke-width="0.6"/>
<circle cx="187.42" cy="36.2" r="1.35" fill="#1a1a1a"/>
<circle cx="190.45" cy="36.2" r="1.35" fill="#1a1a1a"/>
<line x1="185.33" y1="38.7" x2="192.54" y2="38.7" stroke="#777" stroke-width="0.7"/>
<line x1="185.73" y1="33.4" x2="185.73" y2="38.7" stroke="#888" stroke-width="0.5"/>
<line x1="192.14" y1="33.4" x2="192.14" y2="38.7" stroke="#888" stroke-width="0.5"/>
<path d="M187.6 62 L176.2 64.6 L187.6 67.2" fill="none" stroke="#6a6a6a" stroke-width="0.8"/>
<path d="M190.7 62 L202.1 64.6 L190.7 67.2" fill="none" stroke="#6a6a6a" stroke-width="0.8"/>
<text x="188.5" y="83.2" font-size="12.29" font-family="'Liberation Sans',Arial,sans-serif" fill="#111" text-anchor="middle" font-weight="bold" stroke="#111" stroke-width="0.8">1</text>
<rect x="304.2" y="125" width="37.6" height="3.12" fill="none" stroke="#444" stroke-width="0.8"/>
<line x1="304.2" y1="131.25" x2="341.8" y2="131.25" stroke="#444" stroke-width="0.8"/>
<rect x="304.2" y="134.38" width="37.6" height="3.12" fill="none" stroke="#444" stroke-width="0.8"/>
<path d="M340.2 130.25 L342.4 131.25 L340.2 132.25 Z" fill="#333" stroke="none" stroke-width="1"/>
<text x="322.9" y="94.8" font-size="10.34" font-family="'Liberation Sans',Arial,sans-serif" fill="#111" text-anchor="middle" font-weight="bold" stroke="#111" stroke-width="0.8">1</text>
<text x="294.3" y="108.6" font-size="9.4" font-family="'DejaVu Sans','Liberation Sans',sans-serif" fill="#222" textLength="59.9" lengthAdjust="spacingAndGlyphs" stroke="#222" stroke-width="0.18">37.5 <tspan font-size="7.4">&lt;-&gt;</tspan> 52.5</text>
<path d="M316.8 113.9 V121 C319.2 119.2 319 117.2 316.8 118.4" fill="none" stroke="#444" stroke-width="0.6"/>
<circle cx="322.56" cy="118.9" r="1.35" fill="#1a1a1a"/>
<circle cx="325.36" cy="118.9" r="1.35" fill="#1a1a1a"/>
<line x1="320.61" y1="121.4" x2="327.3" y2="121.4" stroke="#777" stroke-width="0.7"/>
<line x1="321.01" y1="116.1" x2="321.01" y2="121.4" stroke="#888" stroke-width="0.5"/>
<line x1="326.9" y1="116.1" x2="326.9" y2="121.4" stroke="#888" stroke-width="0.5"/>
<path d="M323 143.2 L310.2 145.8 L323 148.4" fill="none" stroke="#6a6a6a" stroke-width="0.8"/>
<path d="M326.5 143.2 L339.3 145.8 L326.5 148.4" fill="none" stroke="#6a6a6a" stroke-width="0.8"/>
<line x1="324.5" y1="153" x2="324.5" y2="159.1" stroke="#222" stroke-width="0.9"/>
<path d="M323.1 158.4 L324.5 161.6 L325.9 158.4 Z" fill="#222" stroke="none" stroke-width="1"/>
<line x1="323.2" y1="157.7" x2="325.8" y2="157.7" stroke="#222" stroke-width="0.9"/>
<line x1="323.2" y1="155.7" x2="325.8" y2="155.7" stroke="#222" stroke-width="0.9"/>
<line x1="323.2" y1="153.7" x2="325.8" y2="153.7" stroke="#222" stroke-width="0.9"/>
<rect x="439.3" y="207.5" width="37.4" height="3" fill="none" stroke="#444" stroke-width="0.8"/>
<line x1="439.3" y1="213.5" x2="476.7" y2="213.5" stroke="#444" stroke-width="0.8"/>
<rect x="439.3" y="216.5" width="37.4" height="3" fill="none" stroke="#444" stroke-width="0.8"/>
<path d="M475.1 212.5 L477.3 213.5 L475.1 214.5 Z" fill="#333" stroke="none" stroke-width="1"/>
<text x="457.2" y="176.5" font-size="10.61" font-family="'Liberation Sans',Arial,sans-serif" fill="#111" text-anchor="middle" font-weight="bold" stroke="#111" stroke-width="0.8">1</text>
<text x="433.2" y="190.9" font-size="9.4" font-family="'DejaVu Sans','Liberation Sans',sans-serif" fill="#222" textLength="54.4" lengthAdjust="spacingAndGlyphs" stroke="#222" stroke-width="0.18">7.5 <tspan font-size="7.4">&lt;-&gt;</tspan> 22.5</text>
<path d="M452.3 196.7 V203.4 C454.7 201.6 454.5 199.6 452.3 200.8" fill="none" stroke="#444" stroke-width="0.6"/>
<circle cx="458.11" cy="201.3" r="1.35" fill="#1a1a1a"/>
<circle cx="460.94" cy="201.3" r="1.35" fill="#1a1a1a"/>
<line x1="456.16" y1="203.8" x2="462.89" y2="203.8" stroke="#777" stroke-width="0.7"/>
<line x1="456.56" y1="198.5" x2="456.56" y2="203.8" stroke="#888" stroke-width="0.5"/>
<line x1="462.49" y1="198.5" x2="462.49" y2="203.8" stroke="#888" stroke-width="0.5"/>
<path d="M457.8 224.4 L445 227 L457.8 229.6" fill="none" stroke="#6a6a6a" stroke-width="0.8"/>
<path d="M461.3 224.4 L474.1 227 L461.3 229.6" fill="none" stroke="#6a6a6a" stroke-width="0.8"/>
<line x1="460.3" y1="233.9" x2="460.3" y2="241.7" stroke="#222" stroke-width="0.9"/>
<path d="M458.9 241 L460.3 244.2 L461.7 241 Z" fill="#222" stroke="none" stroke-width="1"/>
<line x1="459" y1="240.3" x2="461.6" y2="240.3" stroke="#222" stroke-width="0.9"/>
<line x1="459" y1="238.3" x2="461.6" y2="238.3" stroke="#222" stroke-width="0.9"/>
<line x1="459" y1="236.3" x2="461.6" y2="236.3" stroke="#222" stroke-width="0.9"/>
<rect x="567.3" y="289.4" width="31.5" height="3.05" fill="none" stroke="#444" stroke-width="0.8"/>
<line x1="567.3" y1="295.5" x2="598.8" y2="295.5" stroke="#444" stroke-width="0.8"/>
<rect x="567.3" y="298.55" width="31.5" height="3.05" fill="none" stroke="#444" stroke-width="0.8"/>
<path d="M597.2 294.5 L599.4 295.5 L597.2 296.5 Z" fill="#333" stroke="none" stroke-width="1"/>
<text x="580.5" y="258.4" font-size="10.61" font-family="'Liberation Sans',Arial,sans-serif" fill="#111" text-anchor="middle" font-weight="bold" stroke="#111" stroke-width="0.8">1</text>
<text x="553.2" y="273.4" font-size="9.4" font-family="'DejaVu Sans','Liberation Sans',sans-serif" fill="#222" textLength="59.7" lengthAdjust="spacingAndGlyphs" stroke="#222" stroke-width="0.18">37.5 <tspan font-size="7.4">&lt;-&gt;</tspan> 52.5</text>
<path d="M574.7 277.6 V285.8 C577.1 284 576.9 282 574.7 283.2" fill="none" stroke="#444" stroke-width="0.6"/>
<circle cx="581.02" cy="283.7" r="1.35" fill="#1a1a1a"/>
<circle cx="584.05" cy="283.7" r="1.35" fill="#1a1a1a"/>
<line x1="578.93" y1="286.2" x2="586.14" y2="286.2" stroke="#777" stroke-width="0.7"/>
<line x1="579.33" y1="280.9" x2="579.33" y2="286.2" stroke="#888" stroke-width="0.5"/>
<line x1="585.74" y1="280.9" x2="585.74" y2="286.2" stroke="#888" stroke-width="0.5"/>
<rect x="555.1" y="283.5" width="9.6" height="21.6" fill="none" stroke="#666" stroke-width="0.8"/>
<path d="M558.6 287 V301.6 C562.6 298.6 562.4 295.1 558.6 297.6" fill="none" stroke="#222" stroke-width="0.9"/>
<path d="M581.28 307 L570.1 309.6 L581.28 312.2" fill="none" stroke="#6a6a6a" stroke-width="0.8"/>
<path d="M584.32 307 L595.5 309.6 L584.32 312.2" fill="none" stroke="#6a6a6a" stroke-width="0.8"/>
<line x1="582.8" y1="315.3" x2="582.8" y2="321.3" stroke="#222" stroke-width="0.9"/>
<path d="M581.4 320.6 L582.8 323.8 L584.2 320.6 Z" fill="#222" stroke="none" stroke-width="1"/>
<rect x="696.5" y="371.3" width="38.4" height="3.12" fill="none" stroke="#444" stroke-width="0.8"/>
<line x1="696.5" y1="377.55" x2="734.9" y2="377.55" stroke="#444" stroke-width="0.8"/>
<rect x="696.5" y="380.68" width="38.4" height="3.12" fill="none" stroke="#444" stroke-width="0.8"/>
<path d="M733.3 376.55 L735.5 377.55 L733.3 378.55 Z" fill="#333" stroke="none" stroke-width="1"/>
<text x="714.4" y="342.1" font-size="11.17" font-family="'Liberation Sans',Arial,sans-serif" fill="#111" text-anchor="middle" font-weight="bold" stroke="#111" stroke-width="0.8">1</text>
<text x="691.3" y="355.8" font-size="9.4" font-family="'DejaVu Sans','Liberation Sans',sans-serif" fill="#222" textLength="54.6" lengthAdjust="spacingAndGlyphs" stroke="#222" stroke-width="0.18">7.5 <tspan font-size="7.4">&lt;-&gt;</tspan> 22.5</text>
<path d="M706.7 360.5 V368.1 C709.1 366.3 708.9 364.3 706.7 365.5" fill="none" stroke="#444" stroke-width="0.6"/>
<circle cx="713.8" cy="366" r="1.35" fill="#1a1a1a"/>
<circle cx="717.17" cy="366" r="1.35" fill="#1a1a1a"/>
<line x1="711.52" y1="368.5" x2="719.45" y2="368.5" stroke="#777" stroke-width="0.7"/>
<line x1="711.92" y1="363.2" x2="711.92" y2="368.5" stroke="#888" stroke-width="0.5"/>
<line x1="719.05" y1="363.2" x2="719.05" y2="368.5" stroke="#888" stroke-width="0.5"/>
<path d="M715.34 387.8 L702.1 390.4 L715.34 393" fill="none" stroke="#6a6a6a" stroke-width="0.8"/>
<path d="M718.96 387.8 L732.2 390.4 L718.96 393" fill="none" stroke="#6a6a6a" stroke-width="0.8"/>
<line x1="717.5" y1="398.1" x2="717.5" y2="406.9" stroke="#222" stroke-width="0.9"/>
<path d="M716.1 406.2 L717.5 409.4 L718.9 406.2 Z" fill="#222" stroke="none" stroke-width="1"/>
<line x1="716.2" y1="405.5" x2="718.8" y2="405.5" stroke="#222" stroke-width="0.9"/>
<line x1="716.2" y1="403.5" x2="718.8" y2="403.5" stroke="#222" stroke-width="0.9"/>
<line x1="716.2" y1="401.5" x2="718.8" y2="401.5" stroke="#222" stroke-width="0.9"/>
<rect x="194.6" y="453.3" width="36.9" height="12.9" fill="none" stroke="#555" stroke-width="0.9"/>
<text x="197.6" y="462.8" font-size="9.6" font-family="'DejaVu Sans','Liberation Sans',sans-serif" fill="#111" textLength="31" lengthAdjust="spacingAndGlyphs">Wind 2</text>
<line x1="197.6" y1="463.9" x2="228.6" y2="463.9" stroke="#555" stroke-width="0.7"/>
<rect x="237.4" y="453.5" width="31.4" height="3.48" fill="none" stroke="#444" stroke-width="0.8"/>
<line x1="237.4" y1="460.45" x2="268.8" y2="460.45" stroke="#444" stroke-width="0.8"/>
<rect x="237.4" y="463.92" width="31.4" height="3.48" fill="none" stroke="#444" stroke-width="0.8"/>
<path d="M267.2 459.45 L269.4 460.45 L267.2 461.45 Z" fill="#333" stroke="none" stroke-width="1"/>
<text x="252.3" y="427.6" font-size="10.61" font-family="'Liberation Sans',Arial,sans-serif" fill="#111" text-anchor="middle" font-weight="bold" stroke="#111" stroke-width="0.8">2</text>
<text x="224.4" y="440.8" font-size="9.4" font-family="'DejaVu Sans','Liberation Sans',sans-serif" fill="#222" textLength="59.4" lengthAdjust="spacingAndGlyphs" stroke="#222" stroke-width="0.18">22.5 <tspan font-size="7.4">&lt;-&gt;</tspan> 37.5</text>
<path d="M246.4 445.9 V452.7 C248.8 450.9 248.6 448.9 246.4 450.1" fill="none" stroke="#444" stroke-width="0.6"/>
<circle cx="252.49" cy="450.6" r="1.35" fill="#1a1a1a"/>
<circle cx="255.44" cy="450.6" r="1.35" fill="#1a1a1a"/>
<line x1="250.47" y1="453.1" x2="257.46" y2="453.1" stroke="#777" stroke-width="0.7"/>
<line x1="250.87" y1="447.8" x2="250.87" y2="453.1" stroke="#888" stroke-width="0.5"/>
<line x1="257.06" y1="447.8" x2="257.06" y2="453.1" stroke="#888" stroke-width="0.5"/>
<path d="M251.84 472.7 L241.5 475.3 L251.84 477.9" fill="none" stroke="#6a6a6a" stroke-width="0.8"/>
<path d="M254.66 472.7 L265 475.3 L254.66 477.9" fill="none" stroke="#6a6a6a" stroke-width="0.8"/>
<rect x="371.4" y="412.4" width="32" height="3.1" fill="none" stroke="#444" stroke-width="0.8"/>
<line x1="371.4" y1="418.6" x2="403.4" y2="418.6" stroke="#444" stroke-width="0.8"/>
<rect x="371.4" y="421.7" width="32" height="3.1" fill="none" stroke="#444" stroke-width="0.8"/>
<path d="M401.8 417.6 L404 418.6 L401.8 419.6 Z" fill="#333" stroke="none" stroke-width="1"/>
<line x1="403.4" y1="412.1" x2="403.4" y2="425.1" stroke="#111" stroke-width="1.8"/>
<text x="385.5" y="374.6" font-size="11.87" font-family="'Liberation Sans',Arial,sans-serif" fill="#111" text-anchor="middle" font-weight="bold" stroke="#111" stroke-width="0.8">2</text>
<text x="357.7" y="388.2" font-size="9.4" font-family="'DejaVu Sans','Liberation Sans',sans-serif" fill="#222" textLength="59.8" lengthAdjust="spacingAndGlyphs" stroke="#222" stroke-width="0.18">52.5 <tspan font-size="7.4">&lt;-&gt;</tspan> 07.5</text>
<line x1="387.8" y1="396.9" x2="387.8" y2="403.3" stroke="#222" stroke-width="0.9"/>
<path d="M386.4 397.6 L387.8 394.4 L389.2 397.6 Z" fill="#222" stroke="none" stroke-width="1"/>
<path d="M381.1 406.1 V411 C383.5 409.2 383.3 407.2 381.1 408.4" fill="none" stroke="#444" stroke-width="0.6"/>
<circle cx="386.63" cy="408.9" r="1.35" fill="#1a1a1a"/>
<circle cx="389.34" cy="408.9" r="1.35" fill="#1a1a1a"/>
<line x1="384.75" y1="411.4" x2="391.22" y2="411.4" stroke="#777" stroke-width="0.7"/>
<line x1="385.15" y1="406.1" x2="385.15" y2="411.4" stroke="#888" stroke-width="0.5"/>
<line x1="390.82" y1="406.1" x2="390.82" y2="411.4" stroke="#888" stroke-width="0.5"/>
<path d="M386.78 431.3 L376 433.9 L386.78 436.5" fill="none" stroke="#6a6a6a" stroke-width="0.8"/>
<path d="M389.72 431.3 L400.5 433.9 L389.72 436.5" fill="none" stroke="#6a6a6a" stroke-width="0.8"/>
<rect x="506.4" y="371.5" width="31.2" height="3.05" fill="none" stroke="#444" stroke-width="0.8"/>
<line x1="506.4" y1="377.6" x2="537.6" y2="377.6" stroke="#444" stroke-width="0.8"/>
<rect x="506.4" y="380.65" width="31.2" height="3.05" fill="none" stroke="#444" stroke-width="0.8"/>
<path d="M536 376.6 L538.2 377.6 L536 378.6 Z" fill="#333" stroke="none" stroke-width="1"/>
<text x="522.4" y="335.7" font-size="10.47" font-family="'Liberation Sans',Arial,sans-serif" fill="#111" text-anchor="middle" font-weight="bold" stroke="#111" stroke-width="0.8">2</text>
<text x="492.2" y="349.4" font-size="9.4" font-family="'DejaVu Sans','Liberation Sans',sans-serif" fill="#222" textLength="59.8" lengthAdjust="spacingAndGlyphs" stroke="#222" stroke-width="0.18">22.5 <tspan font-size="7.4">&lt;-&gt;</tspan> 37.5</text>
<line x1="522.2" y1="356.1" x2="522.2" y2="362.5" stroke="#222" stroke-width="0.9"/>
<path d="M520.8 356.8 L522.2 353.6 L523.6 356.8 Z" fill="#222" stroke="none" stroke-width="1"/>
<line x1="520.9" y1="357.5" x2="523.5" y2="357.5" stroke="#222" stroke-width="0.9"/>
<line x1="520.9" y1="359.5" x2="523.5" y2="359.5" stroke="#222" stroke-width="0.9"/>
<line x1="520.9" y1="361.5" x2="523.5" y2="361.5" stroke="#222" stroke-width="0.9"/>
<path d="M516.1 364.4 V370.7 C518.5 368.9 518.3 366.9 516.1 368.1" fill="none" stroke="#444" stroke-width="0.6"/>
<circle cx="521.46" cy="368.6" r="1.35" fill="#1a1a1a"/>
<circle cx="524.1" cy="368.6" r="1.35" fill="#1a1a1a"/>
<line x1="519.62" y1="371.1" x2="525.94" y2="371.1" stroke="#777" stroke-width="0.7"/>
<line x1="520.02" y1="365.8" x2="520.02" y2="371.1" stroke="#888" stroke-width="0.5"/>
<line x1="525.54" y1="365.8" x2="525.54" y2="371.1" stroke="#888" stroke-width="0.5"/>
<path d="M520.1 389.4 L508.7 392 L520.1 394.6" fill="none" stroke="#6a6a6a" stroke-width="0.8"/>
<path d="M523.2 389.4 L534.6 392 L523.2 394.6" fill="none" stroke="#6a6a6a" stroke-width="0.8"/>
<rect x="628.3" y="330.3" width="32" height="3.07" fill="none" stroke="#444" stroke-width="0.8"/>
<line x1="628.3" y1="336.45" x2="660.3" y2="336.45" stroke="#444" stroke-width="0.8"/>
<rect x="628.3" y="339.53" width="32" height="3.07" fill="none" stroke="#444" stroke-width="0.8"/>
<path d="M658.7 335.45 L660.9 336.45 L658.7 337.45 Z" fill="#333" stroke="none" stroke-width="1"/>
<line x1="660.3" y1="330" x2="660.3" y2="342.9" stroke="#111" stroke-width="1.8"/>
<text x="644.3" y="293.4" font-size="11.17" font-family="'Liberation Sans',Arial,sans-serif" fill="#111" text-anchor="middle" font-weight="bold" stroke="#111" stroke-width="0.8">2</text>
<text x="615.4" y="306.1" font-size="9.4" font-family="'DejaVu Sans','Liberation Sans',sans-serif" fill="#222" textLength="59.7" lengthAdjust="spacingAndGlyphs" stroke="#222" stroke-width="0.18">52.5 <tspan font-size="7.4">&lt;-&gt;</tspan> 07.5</text>
<line x1="645" y1="313.1" x2="645" y2="321.1" stroke="#222" stroke-width="0.9"/>
<path d="M643.6 313.8 L645 310.6 L646.4 313.8 Z" fill="#222" stroke="none" stroke-width="1"/>
<line x1="643.7" y1="314.5" x2="646.3" y2="314.5" stroke="#222" stroke-width="0.9"/>
<line x1="643.7" y1="316.5" x2="646.3" y2="316.5" stroke="#222" stroke-width="0.9"/>
<line x1="643.7" y1="318.5" x2="646.3" y2="318.5" stroke="#222" stroke-width="0.9"/>
<path d="M638.3 324 V328.8 C640.7 327 640.5 325 638.3 326.2" fill="none" stroke="#444" stroke-width="0.6"/>
<circle cx="643.83" cy="326.7" r="1.35" fill="#1a1a1a"/>
<circle cx="646.54" cy="326.7" r="1.35" fill="#1a1a1a"/>
<line x1="641.95" y1="329.2" x2="648.42" y2="329.2" stroke="#777" stroke-width="0.7"/>
<line x1="642.35" y1="323.9" x2="642.35" y2="329.2" stroke="#888" stroke-width="0.5"/>
<line x1="648.02" y1="323.9" x2="648.02" y2="329.2" stroke="#888" stroke-width="0.5"/>
<path d="M643.92 349.6 L634.2 352.2 L643.92 354.8" fill="none" stroke="#6a6a6a" stroke-width="0.8"/>
<path d="M646.58 349.6 L656.3 352.2 L646.58 354.8" fill="none" stroke="#6a6a6a" stroke-width="0.8"/>
<rect x="765" y="289.3" width="30.5" height="3.1" fill="none" stroke="#444" stroke-width="0.8"/>
<line x1="765" y1="295.5" x2="795.5" y2="295.5" stroke="#444" stroke-width="0.8"/>
<rect x="765" y="298.6" width="30.5" height="3.1" fill="none" stroke="#444" stroke-width="0.8"/>
<path d="M793.9 294.5 L796.1 295.5 L793.9 296.5 Z" fill="#333" stroke="none" stroke-width="1"/>
<text x="777.9" y="249" font-size="11.59" font-family="'Liberation Sans',Arial,sans-serif" fill="#111" text-anchor="middle" font-weight="bold" stroke="#111" stroke-width="0.8">2</text>
<text x="749.6" y="262.5" font-size="9.4" font-family="'DejaVu Sans','Liberation Sans',sans-serif" fill="#222" textLength="59.6" lengthAdjust="spacingAndGlyphs" stroke="#222" stroke-width="0.18">22.5 <tspan font-size="7.4">&lt;-&gt;</tspan> 37.5</text>
<line x1="779.5" y1="270.7" x2="779.5" y2="278.6" stroke="#222" stroke-width="0.9"/>
<path d="M778.1 271.4 L779.5 268.2 L780.9 271.4 Z" fill="#222" stroke="none" stroke-width="1"/>
<line x1="778.2" y1="272.1" x2="780.8" y2="272.1" stroke="#222" stroke-width="0.9"/>
<line x1="778.2" y1="274.1" x2="780.8" y2="274.1" stroke="#222" stroke-width="0.9"/>
<line x1="778.2" y1="276.1" x2="780.8" y2="276.1" stroke="#222" stroke-width="0.9"/>
<path d="M773.8 281.9 V287.7 C776.2 285.9 776 283.9 773.8 285.1" fill="none" stroke="#444" stroke-width="0.6"/>
<circle cx="779.44" cy="285.6" r="1.35" fill="#1a1a1a"/>
<circle cx="782.2" cy="285.6" r="1.35" fill="#1a1a1a"/>
<line x1="777.53" y1="288.1" x2="784.11" y2="288.1" stroke="#777" stroke-width="0.7"/>
<line x1="777.93" y1="282.8" x2="777.93" y2="288.1" stroke="#888" stroke-width="0.5"/>
<line x1="783.71" y1="282.8" x2="783.71" y2="288.1" stroke="#888" stroke-width="0.5"/>
<path d="M780.2 307.6 L768.8 310.2 L780.2 312.8" fill="none" stroke="#6a6a6a" stroke-width="0.8"/>
<path d="M783.3 307.6 L794.7 310.2 L783.3 312.8" fill="none" stroke="#6a6a6a" stroke-width="0.8"/>
<rect x="133.9" y="453.5" width="36.9" height="3.4" fill="none" stroke="#444" stroke-width="0.8"/>
<line x1="133.9" y1="460.3" x2="170.8" y2="460.3" stroke="#444" stroke-width="0.8"/>
<rect x="133.9" y="463.7" width="36.9" height="3.4" fill="none" stroke="#444" stroke-width="0.8"/>
<path d="M169.2 459.3 L171.4 460.3 L169.2 461.3 Z" fill="#333" stroke="none" stroke-width="1"/>
<line x1="133.9" y1="453.2" x2="133.9" y2="467.4" stroke="#111" stroke-width="1.8"/>
<text x="150.6" y="426.9" font-size="11.17" font-family="'Liberation Sans',Arial,sans-serif" fill="#111" text-anchor="middle" font-weight="bold" stroke="#111" stroke-width="0.8">3</text>
<text x="130.4" y="438.2" font-size="9.4" font-family="'DejaVu Sans','Liberation Sans',sans-serif" fill="#222" textLength="41.6" lengthAdjust="spacingAndGlyphs" stroke="#222" stroke-width="0.18">00 <tspan font-size="7.4">&lt;-&gt;</tspan> 15</text>
<path d="M142.9 443.4 V450.1 C145.3 448.3 145.1 446.3 142.9 447.5" fill="none" stroke="#444" stroke-width="0.6"/>
<circle cx="149.5" cy="448" r="1.35" fill="#1a1a1a"/>
<circle cx="152.65" cy="448" r="1.35" fill="#1a1a1a"/>
<line x1="147.34" y1="450.5" x2="154.81" y2="450.5" stroke="#777" stroke-width="0.7"/>
<line x1="147.74" y1="445.2" x2="147.74" y2="450.5" stroke="#888" stroke-width="0.5"/>
<line x1="154.41" y1="445.2" x2="154.41" y2="450.5" stroke="#888" stroke-width="0.5"/>
<path d="M150.37 471.7 L138.4 474.3 L150.37 476.9" fill="none" stroke="#6a6a6a" stroke-width="0.8"/>
<path d="M153.63 471.7 L165.6 474.3 L153.63 476.9" fill="none" stroke="#6a6a6a" stroke-width="0.8"/>
<rect x="137.2" y="483.2" width="32.2" height="13.2" fill="none" stroke="#555" stroke-width="0.9"/>
<text x="140.2" y="493" font-size="10" font-family="'DejaVu Sans','Liberation Sans',sans-serif" fill="#111" textLength="26.5" lengthAdjust="spacingAndGlyphs">String</text>
<line x1="140.2" y1="494.1" x2="166.7" y2="494.1" stroke="#555" stroke-width="0.7"/>
<rect x="268.3" y="494.5" width="36.5" height="12.5" fill="none" stroke="#444" stroke-width="0.8"/>
<line x1="268.3" y1="497.62" x2="304.8" y2="497.62" stroke="#444" stroke-width="0.8"/>
<line x1="268.3" y1="500.75" x2="304.8" y2="500.75" stroke="#444" stroke-width="0.8"/>
<line x1="268.3" y1="503.88" x2="304.8" y2="503.88" stroke="#444" stroke-width="0.8"/>
<path d="M303.2 499.75 L305.4 500.75 L303.2 501.75 Z" fill="#333" stroke="none" stroke-width="1"/>
<text x="286.2" y="471.9" font-size="11.17" font-family="'Liberation Sans',Arial,sans-serif" fill="#111" text-anchor="middle" font-weight="bold" stroke="#111" stroke-width="0.8">3</text>
<text x="266.5" y="482.8" font-size="9.4" font-family="'DejaVu Sans','Liberation Sans',sans-serif" fill="#222" textLength="41.6" lengthAdjust="spacingAndGlyphs" stroke="#222" stroke-width="0.18">30 <tspan font-size="7.4">&lt;-&gt;</tspan> 45</text>
<path d="M280.2 485.6 V491.4 C282.6 489.6 282.4 487.6 280.2 488.8" fill="none" stroke="#444" stroke-width="0.6"/>
<circle cx="285.96" cy="489.3" r="1.35" fill="#1a1a1a"/>
<circle cx="288.76" cy="489.3" r="1.35" fill="#1a1a1a"/>
<line x1="284.01" y1="491.8" x2="290.7" y2="491.8" stroke="#777" stroke-width="0.7"/>
<line x1="284.41" y1="486.5" x2="284.41" y2="491.8" stroke="#888" stroke-width="0.5"/>
<line x1="290.3" y1="486.5" x2="290.3" y2="491.8" stroke="#888" stroke-width="0.5"/>
<path d="M285.04 511.2 L273.2 513.8 L285.04 516.4" fill="none" stroke="#6a6a6a" stroke-width="0.8"/>
<path d="M288.26 511.2 L300.1 513.8 L288.26 516.4" fill="none" stroke="#6a6a6a" stroke-width="0.8"/>
<line x1="287.8" y1="521.4" x2="287.8" y2="527.8" stroke="#222" stroke-width="0.9"/>
<path d="M286.4 527.1 L287.8 530.3 L289.2 527.1 Z" fill="#222" stroke="none" stroke-width="1"/>
<rect x="402.4" y="535.6" width="37.7" height="3.15" fill="none" stroke="#444" stroke-width="0.8"/>
<line x1="402.4" y1="541.9" x2="440.1" y2="541.9" stroke="#444" stroke-width="0.8"/>
<rect x="402.4" y="545.05" width="37.7" height="3.15" fill="none" stroke="#444" stroke-width="0.8"/>
<path d="M438.5 540.9 L440.7 541.9 L438.5 542.9 Z" fill="#333" stroke="none" stroke-width="1"/>
<line x1="402.4" y1="535.3" x2="402.4" y2="548.5" stroke="#111" stroke-width="1.8"/>
<text x="421.2" y="507.4" font-size="11.87" font-family="'Liberation Sans',Arial,sans-serif" fill="#111" text-anchor="middle" font-weight="bold" stroke="#111" stroke-width="0.8">3</text>
<text x="401" y="519.6" font-size="9.4" font-family="'DejaVu Sans','Liberation Sans',sans-serif" fill="#222" textLength="41.9" lengthAdjust="spacingAndGlyphs" stroke="#222" stroke-width="0.18">00 <tspan font-size="7.4">&lt;-&gt;</tspan> 15</text>
<path d="M415 525.8 V532.5 C417.4 530.7 417.2 528.7 415 529.9" fill="none" stroke="#444" stroke-width="0.6"/>
<circle cx="420.53" cy="530.4" r="1.35" fill="#1a1a1a"/>
<circle cx="423.24" cy="530.4" r="1.35" fill="#1a1a1a"/>
<line x1="418.65" y1="532.9" x2="425.12" y2="532.9" stroke="#777" stroke-width="0.7"/>
<line x1="419.05" y1="527.6" x2="419.05" y2="532.9" stroke="#888" stroke-width="0.5"/>
<line x1="424.72" y1="527.6" x2="424.72" y2="532.9" stroke="#888" stroke-width="0.5"/>
<path d="M421.35 554.2 L410 556.8 L421.35 559.4" fill="none" stroke="#6a6a6a" stroke-width="0.8"/>
<path d="M424.45 554.2 L435.8 556.8 L424.45 559.4" fill="none" stroke="#6a6a6a" stroke-width="0.8"/>
<line x1="423.4" y1="562.5" x2="423.4" y2="568.9" stroke="#222" stroke-width="0.9"/>
<path d="M422 568.2 L423.4 571.4 L424.8 568.2 Z" fill="#222" stroke="none" stroke-width="1"/>
<line x1="422.1" y1="567.5" x2="424.7" y2="567.5" stroke="#222" stroke-width="0.9"/>
<line x1="422.1" y1="565.5" x2="424.7" y2="565.5" stroke="#222" stroke-width="0.9"/>
<line x1="422.1" y1="563.5" x2="424.7" y2="563.5" stroke="#222" stroke-width="0.9"/>
<rect x="537.3" y="576.4" width="30.4" height="12.9" fill="none" stroke="#444" stroke-width="0.8"/>
<line x1="537.3" y1="579.62" x2="567.7" y2="579.62" stroke="#444" stroke-width="0.8"/>
<line x1="537.3" y1="582.85" x2="567.7" y2="582.85" stroke="#444" stroke-width="0.8"/>
<line x1="537.3" y1="586.07" x2="567.7" y2="586.07" stroke="#444" stroke-width="0.8"/>
<path d="M566.1 581.85 L568.3 582.85 L566.1 583.85 Z" fill="#333" stroke="none" stroke-width="1"/>
<text x="552.9" y="549.3" font-size="11.87" font-family="'Liberation Sans',Arial,sans-serif" fill="#111" text-anchor="middle" font-weight="bold" stroke="#111" stroke-width="0.8">3</text>
<text x="531.8" y="561.1" font-size="9.4" font-family="'DejaVu Sans','Liberation Sans',sans-serif" fill="#222" textLength="41.6" lengthAdjust="spacingAndGlyphs" stroke="#222" stroke-width="0.18">30 <tspan font-size="7.4">&lt;-&gt;</tspan> 45</text>
<path d="M546.9 567.6 V573.4 C549.3 571.6 549.1 569.6 546.9 570.8" fill="none" stroke="#444" stroke-width="0.6"/>
<circle cx="552.66" cy="571.3" r="1.35" fill="#1a1a1a"/>
<circle cx="555.46" cy="571.3" r="1.35" fill="#1a1a1a"/>
<line x1="550.71" y1="573.8" x2="557.4" y2="573.8" stroke="#777" stroke-width="0.7"/>
<line x1="551.11" y1="568.5" x2="551.11" y2="573.8" stroke="#888" stroke-width="0.5"/>
<line x1="557" y1="568.5" x2="557" y2="573.8" stroke="#888" stroke-width="0.5"/>
<path d="M551.96 595 L541.4 597.6 L551.96 600.2" fill="none" stroke="#6a6a6a" stroke-width="0.8"/>
<path d="M554.84 595 L565.4 597.6 L554.84 600.2" fill="none" stroke="#6a6a6a" stroke-width="0.8"/>
<line x1="554.3" y1="604.4" x2="554.3" y2="612.7" stroke="#222" stroke-width="0.9"/>
<path d="M552.9 612 L554.3 615.2 L555.7 612 Z" fill="#222" stroke="none" stroke-width="1"/>
<line x1="553" y1="611.3" x2="555.6" y2="611.3" stroke="#222" stroke-width="0.9"/>
<line x1="553" y1="609.3" x2="555.6" y2="609.3" stroke="#222" stroke-width="0.9"/>
<line x1="553" y1="607.3" x2="555.6" y2="607.3" stroke="#222" stroke-width="0.9"/>
<rect x="659.8" y="617.7" width="37.4" height="3.2" fill="none" stroke="#444" stroke-width="0.8"/>
<line x1="659.8" y1="624.1" x2="697.2" y2="624.1" stroke="#444" stroke-width="0.8"/>
<rect x="659.8" y="627.3" width="37.4" height="3.2" fill="none" stroke="#444" stroke-width="0.8"/>
<path d="M695.6 623.1 L697.8 624.1 L695.6 625.1 Z" fill="#333" stroke="none" stroke-width="1"/>
<line x1="659.8" y1="617.4" x2="659.8" y2="630.8" stroke="#111" stroke-width="1.8"/>
<text x="678.5" y="600.4" font-size="11.59" font-family="'Liberation Sans',Arial,sans-serif" fill="#111" text-anchor="middle" font-weight="bold" stroke="#111" stroke-width="0.8">3</text>
<path d="M672.2 610.2 V614.4 C674.6 612.6 674.4 610.6 672.2 611.8" fill="none" stroke="#444" stroke-width="0.6"/>
<circle cx="678.29" cy="612.3" r="1.35" fill="#1a1a1a"/>
<circle cx="681.24" cy="612.3" r="1.35" fill="#1a1a1a"/>
<line x1="676.27" y1="614.8" x2="683.26" y2="614.8" stroke="#777" stroke-width="0.7"/>
<line x1="676.67" y1="609.5" x2="676.67" y2="614.8" stroke="#888" stroke-width="0.5"/>
<line x1="682.86" y1="609.5" x2="682.86" y2="614.8" stroke="#888" stroke-width="0.5"/>
<path d="M678.47 636.8 L667.6 639.4 L678.47 642" fill="none" stroke="#6a6a6a" stroke-width="0.8"/>
<path d="M681.43 636.8 L692.3 639.4 L681.43 642" fill="none" stroke="#6a6a6a" stroke-width="0.8"/>
<line x1="680.4" y1="646.5" x2="680.4" y2="653.9" stroke="#222" stroke-width="0.9"/>
<path d="M679 653.2 L680.4 656.4 L681.8 653.2 Z" fill="#222" stroke="none" stroke-width="1"/>
<line x1="679.1" y1="652.5" x2="681.7" y2="652.5" stroke="#222" stroke-width="0.9"/>
<line x1="679.1" y1="650.5" x2="681.7" y2="650.5" stroke="#222" stroke-width="0.9"/>
<line x1="679.1" y1="648.5" x2="681.7" y2="648.5" stroke="#222" stroke-width="0.9"/>
<text x="660.3" y="666.8" font-size="9.4" font-family="'DejaVu Sans','Liberation Sans',sans-serif" fill="#222" textLength="41.6" lengthAdjust="spacingAndGlyphs" stroke="#222" stroke-width="0.18">00 <tspan font-size="7.4">&lt;-&gt;</tspan> 15</text>
<rect x="170" y="864.4" width="31.8" height="14.1" fill="none" stroke="#555" stroke-width="0.9"/>
<text x="173" y="875.1" font-size="10" font-family="'DejaVu Sans','Liberation Sans',sans-serif" fill="#111" textLength="26.5" lengthAdjust="spacingAndGlyphs">String</text>
<line x1="173" y1="876.2" x2="199.5" y2="876.2" stroke="#555" stroke-width="0.7"/>
<rect x="207.3" y="864.4" width="30.3" height="3.25" fill="none" stroke="#444" stroke-width="0.8"/>
<line x1="207.3" y1="870.9" x2="237.6" y2="870.9" stroke="#444" stroke-width="0.8"/>
<rect x="207.3" y="874.15" width="30.3" height="3.25" fill="none" stroke="#444" stroke-width="0.8"/>
<path d="M236 869.9 L238.2 870.9 L236 871.9 Z" fill="#333" stroke="none" stroke-width="1"/>
<text x="222.9" y="836.2" font-size="13.13" font-family="'Liberation Sans',Arial,sans-serif" fill="#111" text-anchor="middle" font-weight="bold" stroke="#111" stroke-width="0.8">4</text>
<text x="204.7" y="849.7" font-size="9.4" font-family="'DejaVu Sans','Liberation Sans',sans-serif" fill="#222" textLength="41.2" lengthAdjust="spacingAndGlyphs" stroke="#222" stroke-width="0.18">15 <tspan font-size="7.4">&lt;-&gt;</tspan> 30</text>
<path d="M215.9 855.6 V862.4 C218.3 860.6 218.1 858.6 215.9 859.8" fill="none" stroke="#444" stroke-width="0.6"/>
<circle cx="222.33" cy="860.3" r="1.35" fill="#1a1a1a"/>
<circle cx="225.41" cy="860.3" r="1.35" fill="#1a1a1a"/>
<line x1="220.22" y1="862.8" x2="227.53" y2="862.8" stroke="#777" stroke-width="0.7"/>
<line x1="220.62" y1="857.5" x2="220.62" y2="862.8" stroke="#888" stroke-width="0.5"/>
<line x1="227.13" y1="857.5" x2="227.13" y2="862.8" stroke="#888" stroke-width="0.5"/>
<path d="M221.4 883.6 L210 886.2 L221.4 888.8" fill="none" stroke="#6a6a6a" stroke-width="0.8"/>
<path d="M224.5 883.6 L235.9 886.2 L224.5 888.8" fill="none" stroke="#6a6a6a" stroke-width="0.8"/>
<rect x="341.2" y="778.2" width="30.4" height="3.05" fill="none" stroke="#444" stroke-width="0.8"/>
<line x1="341.2" y1="784.3" x2="371.6" y2="784.3" stroke="#444" stroke-width="0.8"/>
<rect x="341.2" y="787.35" width="30.4" height="3.05" fill="none" stroke="#444" stroke-width="0.8"/>
<path d="M370 783.3 L372.2 784.3 L370 785.3 Z" fill="#333" stroke="none" stroke-width="1"/>
<text x="356.9" y="737.4" font-size="11.87" font-family="'Liberation Sans',Arial,sans-serif" fill="#111" text-anchor="middle" font-weight="bold" stroke="#111" stroke-width="0.8">4</text>
<text x="336.5" y="754.1" font-size="9.4" font-family="'DejaVu Sans','Liberation Sans',sans-serif" fill="#222" textLength="41.9" lengthAdjust="spacingAndGlyphs" stroke="#222" stroke-width="0.18">45 <tspan font-size="7.4">&lt;-&gt;</tspan> 00</text>
<line x1="357.5" y1="761.6" x2="357.5" y2="768.5" stroke="#222" stroke-width="0.9"/>
<path d="M356.1 762.3 L357.5 759.1 L358.9 762.3 Z" fill="#222" stroke="none" stroke-width="1"/>
<line x1="356.2" y1="763" x2="358.8" y2="763" stroke="#222" stroke-width="0.9"/>
<line x1="356.2" y1="765" x2="358.8" y2="765" stroke="#222" stroke-width="0.9"/>
<line x1="356.2" y1="767" x2="358.8" y2="767" stroke="#222" stroke-width="0.9"/>
<path d="M350.7 769.9 V775.7 C353.1 773.9 352.9 771.9 350.7 773.1" fill="none" stroke="#444" stroke-width="0.6"/>
<circle cx="356.34" cy="773.6" r="1.35" fill="#1a1a1a"/>
<circle cx="359.1" cy="773.6" r="1.35" fill="#1a1a1a"/>
<line x1="354.43" y1="776.1" x2="361.01" y2="776.1" stroke="#777" stroke-width="0.7"/>
<line x1="354.83" y1="770.8" x2="354.83" y2="776.1" stroke="#888" stroke-width="0.5"/>
<line x1="360.61" y1="770.8" x2="360.61" y2="776.1" stroke="#888" stroke-width="0.5"/>
<path d="M356.01 796 L344 798.6 L356.01 801.2" fill="none" stroke="#6a6a6a" stroke-width="0.8"/>
<path d="M359.29 796 L371.3 798.6 L359.29 801.2" fill="none" stroke="#6a6a6a" stroke-width="0.8"/>
<rect x="476.2" y="699.8" width="30.6" height="3.17" fill="none" stroke="#444" stroke-width="0.8"/>
<line x1="476.2" y1="706.15" x2="506.8" y2="706.15" stroke="#444" stroke-width="0.8"/>
<rect x="476.2" y="709.33" width="30.6" height="3.17" fill="none" stroke="#444" stroke-width="0.8"/>
<path d="M505.2 705.15 L507.4 706.15 L505.2 707.15 Z" fill="#333" stroke="none" stroke-width="1"/>
<text x="491.2" y="659.3" font-size="11.87" font-family="'Liberation Sans',Arial,sans-serif" fill="#111" text-anchor="middle" font-weight="bold" stroke="#111" stroke-width="0.8">4</text>
<text x="471.8" y="671.5" font-size="9.4" font-family="'DejaVu Sans','Liberation Sans',sans-serif" fill="#222" textLength="41.1" lengthAdjust="spacingAndGlyphs" stroke="#222" stroke-width="0.18">15 <tspan font-size="7.4">&lt;-&gt;</tspan> 30</text>
<line x1="492.5" y1="681.6" x2="492.5" y2="689.9" stroke="#222" stroke-width="0.9"/>
<path d="M491.1 682.3 L492.5 679.1 L493.9 682.3 Z" fill="#222" stroke="none" stroke-width="1"/>
<line x1="491.2" y1="683" x2="493.8" y2="683" stroke="#222" stroke-width="0.9"/>
<line x1="491.2" y1="685" x2="493.8" y2="685" stroke="#222" stroke-width="0.9"/>
<line x1="491.2" y1="687" x2="493.8" y2="687" stroke="#222" stroke-width="0.9"/>
<path d="M485.9 691.8 V697.6 C488.3 695.8 488.1 693.8 485.9 695" fill="none" stroke="#444" stroke-width="0.6"/>
<circle cx="491.71" cy="695.5" r="1.35" fill="#1a1a1a"/>
<circle cx="494.54" cy="695.5" r="1.35" fill="#1a1a1a"/>
<line x1="489.76" y1="698" x2="496.49" y2="698" stroke="#777" stroke-width="0.7"/>
<line x1="490.16" y1="692.7" x2="490.16" y2="698" stroke="#888" stroke-width="0.5"/>
<line x1="496.09" y1="692.7" x2="496.09" y2="698" stroke="#888" stroke-width="0.5"/>
<path d="M491.07 718.5 L479.5 721.1 L491.07 723.7" fill="none" stroke="#6a6a6a" stroke-width="0.8"/>
<path d="M494.23 718.5 L505.8 721.1 L494.23 723.7" fill="none" stroke="#6a6a6a" stroke-width="0.8"/>
<rect x="598.1" y="617.7" width="31.3" height="3.2" fill="none" stroke="#444" stroke-width="0.8"/>
<line x1="598.1" y1="624.1" x2="629.4" y2="624.1" stroke="#444" stroke-width="0.8"/>
<rect x="598.1" y="627.3" width="31.3" height="3.2" fill="none" stroke="#444" stroke-width="0.8"/>
<path d="M627.8 623.1 L630 624.1 L627.8 625.1 Z" fill="#333" stroke="none" stroke-width="1"/>
<text x="612.9" y="578.8" font-size="12.15" font-family="'Liberation Sans',Arial,sans-serif" fill="#111" text-anchor="middle" font-weight="bold" stroke="#111" stroke-width="0.8">4</text>
<text x="592.8" y="592.6" font-size="9.4" font-family="'DejaVu Sans','Liberation Sans',sans-serif" fill="#222" textLength="42.3" lengthAdjust="spacingAndGlyphs" stroke="#222" stroke-width="0.18">45 <tspan font-size="7.4">&lt;-&gt;</tspan> 00</text>
<line x1="614.2" y1="602" x2="614.2" y2="608.6" stroke="#222" stroke-width="0.9"/>
<path d="M612.8 602.7 L614.2 599.5 L615.6 602.7 Z" fill="#222" stroke="none" stroke-width="1"/>
<path d="M604.6 608.6 V616 C607 614.2 606.8 612.2 604.6 613.4" fill="none" stroke="#444" stroke-width="0.6"/>
<circle cx="612.15" cy="613.9" r="1.35" fill="#1a1a1a"/>
<circle cx="615.71" cy="613.9" r="1.35" fill="#1a1a1a"/>
<line x1="609.76" y1="616.4" x2="618.11" y2="616.4" stroke="#777" stroke-width="0.7"/>
<line x1="610.16" y1="611.1" x2="610.16" y2="616.4" stroke="#888" stroke-width="0.5"/>
<line x1="617.71" y1="611.1" x2="617.71" y2="616.4" stroke="#888" stroke-width="0.5"/>
<rect x="586.5" y="613.5" width="9.1" height="19.8" fill="none" stroke="#666" stroke-width="0.8"/>
<path d="M589.75 617 V629.8 C593.75 626.8 593.55 623.3 589.75 625.8" fill="none" stroke="#222" stroke-width="0.9"/>
<path d="M612.85 636.1 L602.2 638.7 L612.85 641.3" fill="none" stroke="#6a6a6a" stroke-width="0.8"/>
<path d="M615.75 636.1 L626.4 638.7 L615.75 641.3" fill="none" stroke="#6a6a6a" stroke-width="0.8"/>
<rect x="734.4" y="535.4" width="31.4" height="3.25" fill="none" stroke="#444" stroke-width="0.8"/>
<line x1="734.4" y1="541.9" x2="765.8" y2="541.9" stroke="#444" stroke-width="0.8"/>
<rect x="734.4" y="545.15" width="31.4" height="3.25" fill="none" stroke="#444" stroke-width="0.8"/>
<path d="M764.2 540.9 L766.4 541.9 L764.2 542.9 Z" fill="#333" stroke="none" stroke-width="1"/>
<text x="748.8" y="494.9" font-size="10.47" font-family="'Liberation Sans',Arial,sans-serif" fill="#111" text-anchor="middle" font-weight="bold" stroke="#111" stroke-width="0.8">4</text>
<text x="729.3" y="510.3" font-size="9.4" font-family="'DejaVu Sans','Liberation Sans',sans-serif" fill="#222" textLength="41.6" lengthAdjust="spacingAndGlyphs" stroke="#222" stroke-width="0.18">15 <tspan font-size="7.4">&lt;-&gt;</tspan> 30</text>
<line x1="750.3" y1="517.5" x2="750.3" y2="525.8" stroke="#222" stroke-width="0.9"/>
<path d="M748.9 518.2 L750.3 515 L751.7 518.2 Z" fill="#222" stroke="none" stroke-width="1"/>
<line x1="749" y1="518.9" x2="751.6" y2="518.9" stroke="#222" stroke-width="0.9"/>
<line x1="749" y1="520.9" x2="751.6" y2="520.9" stroke="#222" stroke-width="0.9"/>
<line x1="749" y1="522.9" x2="751.6" y2="522.9" stroke="#222" stroke-width="0.9"/>
<path d="M742.8 525.5 V533 C745.2 531.2 745 529.2 742.8 530.4" fill="none" stroke="#444" stroke-width="0.6"/>
<circle cx="749.57" cy="530.9" r="1.35" fill="#1a1a1a"/>
<circle cx="752.79" cy="530.9" r="1.35" fill="#1a1a1a"/>
<line x1="747.37" y1="533.4" x2="754.99" y2="533.4" stroke="#777" stroke-width="0.7"/>
<line x1="747.77" y1="528.1" x2="747.77" y2="533.4" stroke="#888" stroke-width="0.5"/>
<line x1="754.59" y1="528.1" x2="754.59" y2="533.4" stroke="#888" stroke-width="0.5"/>
<path d="M749.1 553.4 L738.5 556 L749.1 558.6" fill="none" stroke="#6a6a6a" stroke-width="0.8"/>
<path d="M752 553.4 L762.6 556 L752 558.6" fill="none" stroke="#6a6a6a" stroke-width="0.8"/>
<text x="73.9" y="904.7" font-size="8" font-family="'DejaVu Sans','Liberation Sans',sans-serif" fill="#333" text-anchor="end" textLength="37.4" lengthAdjust="spacingAndGlyphs">fixed pitch</text>
<line x1="36.4" y1="906.2" x2="73.9" y2="906.2" stroke="#777" stroke-width="0.6"/>
<text x="74" y="914.2" font-size="8" font-family="'DejaVu Sans','Liberation Sans',sans-serif" fill="#333" text-anchor="end" textLength="16.9" lengthAdjust="spacingAndGlyphs">instr.</text>
<text x="74.1" y="925.1" font-size="7.8" font-family="'DejaVu Sans','Liberation Sans',sans-serif" fill="#333" text-anchor="end" font-weight="bold" textLength="19" lengthAdjust="spacingAndGlyphs">Av. P.</text>
<line x1="55" y1="926.2" x2="74.2" y2="926.2" stroke="#666" stroke-width="0.6"/>
<line x1="85.6" y1="905.5" x2="795.3" y2="905.5" stroke="#444" stroke-width="0.7"/>
<line x1="85.6" y1="908.25" x2="795.3" y2="908.25" stroke="#444" stroke-width="0.7"/>
<line x1="85.6" y1="911" x2="795.3" y2="911" stroke="#444" stroke-width="0.7"/>
<line x1="85.6" y1="913.75" x2="795.3" y2="913.75" stroke="#444" stroke-width="0.7"/>
<line x1="85.6" y1="916.5" x2="795.3" y2="916.5" stroke="#444" stroke-width="0.7"/>
<g transform="translate(88.3 900.3) scale(0.95)"><path d="M5.6 14.6 C4.2 15 3.2 13.8 3.8 12.4 C4.6 10.6 8 10.6 8.8 13.4 C9.6 16.6 7 19.2 4.4 19 C1.6 18.8 0 16.4 0.6 13.6 C1.4 10.2 5.8 8.2 6.8 4.6 C7.4 2.2 7 -0.8 6 -0.8 C4.8 -0.8 4.2 1.8 4.3 4.6 L5.8 20.4 C6 22.2 5 23.2 3.9 23" fill="none" stroke="#111" stroke-width="1.2" stroke-linecap="round" stroke-linejoin="round"/><circle cx="3.5" cy="22.3" r="1.45" fill="#111"/></g>
<text x="93.5" y="899" font-size="5.5" font-family="'DejaVu Sans','Liberation Sans',sans-serif" fill="#333" text-anchor="middle">8</text>
<ellipse cx="118.9" cy="900.4" rx="2.0" ry="1.35" fill="none" stroke="#111" stroke-width="1.5"/>
<ellipse cx="118.9" cy="903.2" rx="2.0" ry="1.35" fill="none" stroke="#111" stroke-width="1.5"/>
<path d="M115.3 900.2 L113.3 901.8 L115.3 903.4 Z" fill="#222" stroke="none" stroke-width="1"/>
<ellipse cx="118.9" cy="909.3" rx="2.0" ry="1.3" fill="none" stroke="#111" stroke-width="1.2"/>
<ellipse cx="145.2" cy="900.4" rx="2.0" ry="1.35" fill="none" stroke="#111" stroke-width="1.5"/>
<ellipse cx="145.2" cy="903.2" rx="2.0" ry="1.35" fill="none" stroke="#111" stroke-width="1.5"/>
<path d="M141.6 900.2 L139.6 901.8 L141.6 903.4 Z" fill="#222" stroke="none" stroke-width="1"/>
<ellipse cx="145.2" cy="909.3" rx="2.0" ry="1.3" fill="none" stroke="#111" stroke-width="1.2"/>
<ellipse cx="182" cy="900.4" rx="2.0" ry="1.35" fill="none" stroke="#111" stroke-width="1.5"/>
<ellipse cx="182" cy="903.2" rx="2.0" ry="1.35" fill="none" stroke="#111" stroke-width="1.5"/>
<path d="M178.4 900.2 L176.4 901.8 L178.4 903.4 Z" fill="#222" stroke="none" stroke-width="1"/>
<ellipse cx="182" cy="909.3" rx="2.0" ry="1.3" fill="none" stroke="#111" stroke-width="1.2"/>
<ellipse cx="218.7" cy="900.4" rx="2.0" ry="1.35" fill="none" stroke="#111" stroke-width="1.5"/>
<ellipse cx="218.7" cy="903.2" rx="2.0" ry="1.35" fill="none" stroke="#111" stroke-width="1.5"/>
<path d="M215.1 900.2 L213.1 901.8 L215.1 903.4 Z" fill="#222" stroke="none" stroke-width="1"/>
<ellipse cx="218.7" cy="909.3" rx="2.0" ry="1.3" fill="none" stroke="#111" stroke-width="1.2"/>
<ellipse cx="249" cy="900.4" rx="2.0" ry="1.35" fill="none" stroke="#111" stroke-width="1.5"/>
<ellipse cx="249" cy="903.2" rx="2.0" ry="1.35" fill="none" stroke="#111" stroke-width="1.5"/>
<path d="M245.4 900.2 L243.4 901.8 L245.4 903.4 Z" fill="#222" stroke="none" stroke-width="1"/>
<ellipse cx="249" cy="909.3" rx="2.0" ry="1.3" fill="none" stroke="#111" stroke-width="1.2"/>
<ellipse cx="277" cy="900.4" rx="2.0" ry="1.35" fill="none" stroke="#111" stroke-width="1.5"/>
<ellipse cx="277" cy="903.2" rx="2.0" ry="1.35" fill="none" stroke="#111" stroke-width="1.5"/>
<path d="M273.4 900.2 L271.4 901.8 L273.4 903.4 Z" fill="#222" stroke="none" stroke-width="1"/>
<ellipse cx="277" cy="909.3" rx="2.0" ry="1.3" fill="none" stroke="#111" stroke-width="1.2"/>
<ellipse cx="315" cy="900.4" rx="2.0" ry="1.35" fill="none" stroke="#111" stroke-width="1.5"/>
<ellipse cx="315" cy="903.2" rx="2.0" ry="1.35" fill="none" stroke="#111" stroke-width="1.5"/>
<path d="M311.4 900.2 L309.4 901.8 L311.4 903.4 Z" fill="#222" stroke="none" stroke-width="1"/>
<ellipse cx="315" cy="909.3" rx="2.0" ry="1.3" fill="none" stroke="#111" stroke-width="1.2"/>
<ellipse cx="350.8" cy="900.4" rx="2.0" ry="1.35" fill="none" stroke="#111" stroke-width="1.5"/>
<ellipse cx="350.8" cy="903.2" rx="2.0" ry="1.35" fill="none" stroke="#111" stroke-width="1.5"/>
<path d="M347.2 900.2 L345.2 901.8 L347.2 903.4 Z" fill="#222" stroke="none" stroke-width="1"/>
<ellipse cx="350.8" cy="909.3" rx="2.0" ry="1.3" fill="none" stroke="#111" stroke-width="1.2"/>
<ellipse cx="380.5" cy="900.4" rx="2.0" ry="1.35" fill="none" stroke="#111" stroke-width="1.5"/>
<ellipse cx="380.5" cy="903.2" rx="2.0" ry="1.35" fill="none" stroke="#111" stroke-width="1.5"/>
<path d="M376.9 900.2 L374.9 901.8 L376.9 903.4 Z" fill="#222" stroke="none" stroke-width="1"/>
<ellipse cx="380.5" cy="909.3" rx="2.0" ry="1.3" fill="none" stroke="#111" stroke-width="1.2"/>
<ellipse cx="413.4" cy="900.4" rx="2.0" ry="1.35" fill="none" stroke="#111" stroke-width="1.5"/>
<ellipse cx="413.4" cy="903.2" rx="2.0" ry="1.35" fill="none" stroke="#111" stroke-width="1.5"/>
<path d="M409.8 900.2 L407.8 901.8 L409.8 903.4 Z" fill="#222" stroke="none" stroke-width="1"/>
<ellipse cx="413.4" cy="909.3" rx="2.0" ry="1.3" fill="none" stroke="#111" stroke-width="1.2"/>
<ellipse cx="449.6" cy="900.4" rx="2.0" ry="1.35" fill="none" stroke="#111" stroke-width="1.5"/>
<ellipse cx="449.6" cy="903.2" rx="2.0" ry="1.35" fill="none" stroke="#111" stroke-width="1.5"/>
<path d="M446 900.2 L444 901.8 L446 903.4 Z" fill="#222" stroke="none" stroke-width="1"/>
<ellipse cx="449.6" cy="912.4" rx="2.0" ry="1.3" fill="none" stroke="#111" stroke-width="1.2"/>
<ellipse cx="485.9" cy="900.4" rx="2.0" ry="1.35" fill="none" stroke="#111" stroke-width="1.5"/>
<ellipse cx="485.9" cy="903.2" rx="2.0" ry="1.35" fill="none" stroke="#111" stroke-width="1.5"/>
<path d="M482.3 900.2 L480.3 901.8 L482.3 903.4 Z" fill="#222" stroke="none" stroke-width="1"/>
<ellipse cx="485.9" cy="912.4" rx="2.0" ry="1.3" fill="none" stroke="#111" stroke-width="1.2"/>
<ellipse cx="516.5" cy="900.4" rx="2.0" ry="1.35" fill="none" stroke="#111" stroke-width="1.5"/>
<ellipse cx="516.5" cy="903.2" rx="2.0" ry="1.35" fill="none" stroke="#111" stroke-width="1.5"/>
<path d="M512.9 900.2 L510.9 901.8 L512.9 903.4 Z" fill="#222" stroke="none" stroke-width="1"/>
<ellipse cx="516.5" cy="909.3" rx="2.0" ry="1.3" fill="none" stroke="#111" stroke-width="1.2"/>
<ellipse cx="546.8" cy="900.4" rx="2.0" ry="1.35" fill="none" stroke="#111" stroke-width="1.5"/>
<ellipse cx="546.8" cy="903.2" rx="2.0" ry="1.35" fill="none" stroke="#111" stroke-width="1.5"/>
<path d="M543.2 900.2 L541.2 901.8 L543.2 903.4 Z" fill="#222" stroke="none" stroke-width="1"/>
<ellipse cx="546.8" cy="912.4" rx="2.0" ry="1.3" fill="none" stroke="#111" stroke-width="1.2"/>
<ellipse cx="577.9" cy="900.4" rx="2.0" ry="1.35" fill="none" stroke="#111" stroke-width="1.5"/>
<ellipse cx="577.9" cy="903.2" rx="2.0" ry="1.35" fill="none" stroke="#111" stroke-width="1.5"/>
<path d="M574.3 900.2 L572.3 901.8 L574.3 903.4 Z" fill="#222" stroke="none" stroke-width="1"/>
<ellipse cx="577.9" cy="912.4" rx="2.0" ry="1.3" fill="none" stroke="#111" stroke-width="1.2"/>
<ellipse cx="609.2" cy="900.4" rx="2.0" ry="1.35" fill="none" stroke="#111" stroke-width="1.5"/>
<ellipse cx="609.2" cy="903.2" rx="2.0" ry="1.35" fill="none" stroke="#111" stroke-width="1.5"/>
<path d="M605.6 900.2 L603.6 901.8 L605.6 903.4 Z" fill="#222" stroke="none" stroke-width="1"/>
<ellipse cx="609.2" cy="912.4" rx="2.0" ry="1.3" fill="none" stroke="#111" stroke-width="1.2"/>
<ellipse cx="638.8" cy="900.4" rx="2.0" ry="1.35" fill="none" stroke="#111" stroke-width="1.5"/>
<ellipse cx="638.8" cy="903.2" rx="2.0" ry="1.35" fill="none" stroke="#111" stroke-width="1.5"/>
<path d="M635.2 900.2 L633.2 901.8 L635.2 903.4 Z" fill="#222" stroke="none" stroke-width="1"/>
<ellipse cx="638.8" cy="912.4" rx="2.0" ry="1.3" fill="none" stroke="#111" stroke-width="1.2"/>
<ellipse cx="670.1" cy="900.4" rx="2.0" ry="1.35" fill="none" stroke="#111" stroke-width="1.5"/>
<ellipse cx="670.1" cy="903.2" rx="2.0" ry="1.35" fill="none" stroke="#111" stroke-width="1.5"/>
<path d="M666.5 900.2 L664.5 901.8 L666.5 903.4 Z" fill="#222" stroke="none" stroke-width="1"/>
<ellipse cx="670.1" cy="912.4" rx="2.0" ry="1.3" fill="none" stroke="#111" stroke-width="1.2"/>
<ellipse cx="709.6" cy="900.4" rx="2.0" ry="1.35" fill="none" stroke="#111" stroke-width="1.5"/>
<ellipse cx="709.6" cy="903.2" rx="2.0" ry="1.35" fill="none" stroke="#111" stroke-width="1.5"/>
<path d="M706 900.2 L704 901.8 L706 903.4 Z" fill="#222" stroke="none" stroke-width="1"/>
<ellipse cx="709.6" cy="911" rx="2.0" ry="1.3" fill="none" stroke="#111" stroke-width="1.2"/>
<ellipse cx="745.9" cy="900.4" rx="2.0" ry="1.35" fill="none" stroke="#111" stroke-width="1.5"/>
<ellipse cx="745.9" cy="903.2" rx="2.0" ry="1.35" fill="none" stroke="#111" stroke-width="1.5"/>
<path d="M742.3 900.2 L740.3 901.8 L742.3 903.4 Z" fill="#222" stroke="none" stroke-width="1"/>
<ellipse cx="745.9" cy="912.4" rx="2.0" ry="1.3" fill="none" stroke="#111" stroke-width="1.2"/>
<ellipse cx="775.5" cy="900.4" rx="2.0" ry="1.35" fill="none" stroke="#111" stroke-width="1.5"/>
<ellipse cx="775.5" cy="903.2" rx="2.0" ry="1.35" fill="none" stroke="#111" stroke-width="1.5"/>
<path d="M771.9 900.2 L769.9 901.8 L771.9 903.4 Z" fill="#222" stroke="none" stroke-width="1"/>
<ellipse cx="775.5" cy="912.4" rx="2.0" ry="1.3" fill="none" stroke="#111" stroke-width="1.2"/>
<ellipse cx="132.05" cy="900.4" rx="10.65" ry="3.9" fill="none" stroke="#777" stroke-width="0.8"/>
<ellipse cx="132.05" cy="909.6" rx="10.65" ry="4.1" fill="none" stroke="#777" stroke-width="0.8"/>
<ellipse cx="163.6" cy="900.4" rx="15.9" ry="3.9" fill="none" stroke="#777" stroke-width="0.8"/>
<ellipse cx="163.6" cy="909.6" rx="15.9" ry="4.1" fill="none" stroke="#777" stroke-width="0.8"/>
<ellipse cx="200.35" cy="900.4" rx="15.85" ry="3.9" fill="none" stroke="#777" stroke-width="0.8"/>
<ellipse cx="200.35" cy="909.6" rx="15.85" ry="4.1" fill="none" stroke="#777" stroke-width="0.8"/>
<ellipse cx="233.85" cy="900.4" rx="12.65" ry="3.9" fill="none" stroke="#777" stroke-width="0.8"/>
<ellipse cx="233.85" cy="909.6" rx="12.65" ry="4.1" fill="none" stroke="#777" stroke-width="0.8"/>
<ellipse cx="263" cy="900.4" rx="11.5" ry="3.9" fill="none" stroke="#777" stroke-width="0.8"/>
<ellipse cx="263" cy="909.6" rx="11.5" ry="4.1" fill="none" stroke="#777" stroke-width="0.8"/>
<ellipse cx="296" cy="900.4" rx="16.5" ry="3.9" fill="none" stroke="#777" stroke-width="0.8"/>
<ellipse cx="296" cy="909.6" rx="16.5" ry="4.1" fill="none" stroke="#777" stroke-width="0.8"/>
<ellipse cx="332.9" cy="900.4" rx="15.4" ry="3.9" fill="none" stroke="#777" stroke-width="0.8"/>
<ellipse cx="332.9" cy="909.6" rx="15.4" ry="4.1" fill="none" stroke="#777" stroke-width="0.8"/>
<ellipse cx="365.65" cy="900.4" rx="12.35" ry="3.9" fill="none" stroke="#777" stroke-width="0.8"/>
<ellipse cx="365.65" cy="909.6" rx="12.35" ry="4.1" fill="none" stroke="#777" stroke-width="0.8"/>
<ellipse cx="396.95" cy="900.4" rx="13.95" ry="3.9" fill="none" stroke="#777" stroke-width="0.8"/>
<ellipse cx="396.95" cy="909.6" rx="13.95" ry="4.1" fill="none" stroke="#777" stroke-width="0.8"/>
<ellipse cx="431.5" cy="900.4" rx="15.6" ry="3.9" fill="none" stroke="#777" stroke-width="0.8"/>
<ellipse cx="431.5" cy="909.6" rx="15.6" ry="4.1" fill="none" stroke="#777" stroke-width="0.8"/>
<ellipse cx="467.75" cy="900.4" rx="15.65" ry="3.9" fill="none" stroke="#777" stroke-width="0.8"/>
<ellipse cx="467.75" cy="909.6" rx="15.65" ry="4.1" fill="none" stroke="#777" stroke-width="0.8"/>
<ellipse cx="501.2" cy="900.4" rx="12.8" ry="3.9" fill="none" stroke="#777" stroke-width="0.8"/>
<ellipse cx="501.2" cy="909.6" rx="12.8" ry="4.1" fill="none" stroke="#777" stroke-width="0.8"/>
<ellipse cx="531.65" cy="900.4" rx="12.65" ry="3.9" fill="none" stroke="#777" stroke-width="0.8"/>
<ellipse cx="531.65" cy="909.6" rx="12.65" ry="4.1" fill="none" stroke="#777" stroke-width="0.8"/>
<ellipse cx="562.35" cy="900.4" rx="13.05" ry="3.9" fill="none" stroke="#777" stroke-width="0.8"/>
<ellipse cx="562.35" cy="909.6" rx="13.05" ry="4.1" fill="none" stroke="#777" stroke-width="0.8"/>
<ellipse cx="593.55" cy="900.4" rx="13.15" ry="3.9" fill="none" stroke="#777" stroke-width="0.8"/>
<ellipse cx="593.55" cy="909.6" rx="13.15" ry="4.1" fill="none" stroke="#777" stroke-width="0.8"/>
<ellipse cx="624" cy="900.4" rx="12.3" ry="3.9" fill="none" stroke="#777" stroke-width="0.8"/>
<ellipse cx="624" cy="909.6" rx="12.3" ry="4.1" fill="none" stroke="#777" stroke-width="0.8"/>
<ellipse cx="654.45" cy="900.4" rx="13.15" ry="3.9" fill="none" stroke="#777" stroke-width="0.8"/>
<ellipse cx="654.45" cy="909.6" rx="13.15" ry="4.1" fill="none" stroke="#777" stroke-width="0.8"/>
<ellipse cx="689.85" cy="900.4" rx="17.25" ry="3.9" fill="none" stroke="#777" stroke-width="0.8"/>
<ellipse cx="689.85" cy="909.6" rx="17.25" ry="4.1" fill="none" stroke="#777" stroke-width="0.8"/>
<ellipse cx="727.75" cy="900.4" rx="15.65" ry="3.9" fill="none" stroke="#777" stroke-width="0.8"/>
<ellipse cx="727.75" cy="909.6" rx="15.65" ry="4.1" fill="none" stroke="#777" stroke-width="0.8"/>
<ellipse cx="760.7" cy="900.4" rx="12.3" ry="3.9" fill="none" stroke="#777" stroke-width="0.8"/>
<ellipse cx="760.7" cy="909.6" rx="12.3" ry="4.1" fill="none" stroke="#777" stroke-width="0.8"/>
<ellipse cx="97" cy="901" rx="3" ry="3.5" fill="none" stroke="#fff" stroke-width="0"/>
<line x1="134.2" y1="905" x2="134.2" y2="917" stroke="#111" stroke-width="1.8"/>
<line x1="402.6" y1="905" x2="402.6" y2="917" stroke="#111" stroke-width="1.8"/>
<line x1="659.2" y1="905" x2="659.2" y2="917" stroke="#111" stroke-width="1.8"/>
<line x1="171.2" y1="909.5" x2="171.2" y2="916.5" stroke="#777" stroke-width="0.6"/>
<line x1="207.4" y1="909.5" x2="207.4" y2="916.5" stroke="#777" stroke-width="0.6"/>
<line x1="238" y1="909.5" x2="238" y2="916.5" stroke="#777" stroke-width="0.6"/>
<line x1="304.7" y1="909.5" x2="304.7" y2="916.5" stroke="#777" stroke-width="0.6"/>
<line x1="341" y1="909.5" x2="341" y2="916.5" stroke="#777" stroke-width="0.6"/>
<line x1="371.6" y1="909.5" x2="371.6" y2="916.5" stroke="#777" stroke-width="0.6"/>
<line x1="439.4" y1="909.5" x2="439.4" y2="916.5" stroke="#777" stroke-width="0.6"/>
<line x1="477" y1="909.5" x2="477" y2="916.5" stroke="#777" stroke-width="0.6"/>
<line x1="506.6" y1="909.5" x2="506.6" y2="916.5" stroke="#777" stroke-width="0.6"/>
<line x1="568.2" y1="909.5" x2="568.2" y2="916.5" stroke="#777" stroke-width="0.6"/>
<line x1="598.2" y1="909.5" x2="598.2" y2="916.5" stroke="#777" stroke-width="0.6"/>
<line x1="629.3" y1="909.5" x2="629.3" y2="916.5" stroke="#777" stroke-width="0.6"/>
<line x1="697.1" y1="909.5" x2="697.1" y2="916.5" stroke="#777" stroke-width="0.6"/>
<line x1="734.1" y1="909.5" x2="734.1" y2="916.5" stroke="#777" stroke-width="0.6"/>
<line x1="765.9" y1="909.5" x2="765.9" y2="916.5" stroke="#777" stroke-width="0.6"/>
<line x1="269" y1="905.5" x2="269" y2="916.5" stroke="#444" stroke-width="0.8"/>
<line x1="537.3" y1="905.5" x2="537.3" y2="916.5" stroke="#444" stroke-width="0.8"/>
<line x1="795.3" y1="905.5" x2="795.3" y2="916.5" stroke="#444" stroke-width="0.8"/>
<text x="105.6" y="903" font-size="8" font-family="'DejaVu Sans','Liberation Sans',sans-serif" fill="#111">♭</text>
<text x="105.8" y="911" font-size="7" font-family="'DejaVu Sans','Liberation Sans',sans-serif" fill="#222">♭</text>
<rect x="113.8" y="921.8" width="173.6" height="19.1" fill="none" stroke="#555" stroke-width="0.8"/>
<text x="116.5" y="930.2" font-size="7.4" font-family="'DejaVu Sans','Liberation Sans',sans-serif" fill="#222" textLength="168" lengthAdjust="spacingAndGlyphs">Percussion: bowed vibe and/or glock: Amplified + delay</text>
<line x1="116.5" y1="931.3" x2="154.3" y2="931.3" stroke="#555" stroke-width="0.5"/>
<line x1="232.5" y1="931.3" x2="284.5" y2="931.3" stroke="#555" stroke-width="0.5"/>
<text x="116.5" y="938.6" font-size="7.4" font-family="'DejaVu Sans','Liberation Sans',sans-serif" fill="#222" textLength="140" lengthAdjust="spacingAndGlyphs">Select and alternate pitches, max 2 at a time</text>
<line x1="241.8" y1="949.2" x2="263.8" y2="949.2" stroke="#555" stroke-width="0.8" stroke-dasharray="1.3 1.2"/>
<text x="271.2" y="952.2" font-size="8" font-family="'DejaVu Sans','Liberation Sans',sans-serif" fill="#222" textLength="16.2" lengthAdjust="spacingAndGlyphs">-25c</text>
<line x1="378.8" y1="945.4" x2="401.9" y2="945.4" stroke="#555" stroke-width="0.8" stroke-dasharray="1.3 1.2"/>
<text x="410" y="948.4" font-size="8" font-family="'DejaVu Sans','Liberation Sans',sans-serif" fill="#222" textLength="15.6" lengthAdjust="spacingAndGlyphs">-50c</text>
<line x1="513.9" y1="945.4" x2="537" y2="945.4" stroke="#555" stroke-width="0.8" stroke-dasharray="1.3 1.2"/>
<text x="545" y="948.4" font-size="8" font-family="'DejaVu Sans','Liberation Sans',sans-serif" fill="#222" textLength="15.6" lengthAdjust="spacingAndGlyphs">-75c</text>
<line x1="637.2" y1="945.4" x2="658.6" y2="945.4" stroke="#555" stroke-width="0.8" stroke-dasharray="1.3 1.2"/>
<text x="666.8" y="948.4" font-size="8" font-family="'DejaVu Sans','Liberation Sans',sans-serif" fill="#222" textLength="19.8" lengthAdjust="spacingAndGlyphs">-100c</text>
<line x1="315.3" y1="992.6" x2="337.5" y2="992.6" stroke="#555" stroke-width="0.8" stroke-dasharray="1.3 1.2"/>
<text x="346" y="995.6" font-size="8" font-family="'DejaVu Sans','Liberation Sans',sans-serif" fill="#222" textLength="15.8" lengthAdjust="spacingAndGlyphs">+25c</text>
<line x1="451.8" y1="992.6" x2="473" y2="992.6" stroke="#555" stroke-width="0.8" stroke-dasharray="1.3 1.2"/>
<text x="481.9" y="995.6" font-size="8" font-family="'DejaVu Sans','Liberation Sans',sans-serif" fill="#222" textLength="15.8" lengthAdjust="spacingAndGlyphs">+50c</text>
<line x1="576.6" y1="992.6" x2="598" y2="992.6" stroke="#555" stroke-width="0.8" stroke-dasharray="1.3 1.2"/>
<text x="607.3" y="995.6" font-size="8" font-family="'DejaVu Sans','Liberation Sans',sans-serif" fill="#222" textLength="15.8" lengthAdjust="spacingAndGlyphs">+75c</text>
<line x1="709.7" y1="992.6" x2="731.2" y2="992.6" stroke="#555" stroke-width="0.8" stroke-dasharray="1.3 1.2"/>
<text x="739.4" y="995.6" font-size="8" font-family="'DejaVu Sans','Liberation Sans',sans-serif" fill="#222" textLength="20.5" lengthAdjust="spacingAndGlyphs">+100c</text>
<rect x="666.8" y="930.5" width="36.2" height="8.8" fill="none" stroke="#555" stroke-width="0.8"/>
<text x="669" y="937" font-size="6.8" font-family="'DejaVu Sans','Liberation Sans',sans-serif" fill="#222" textLength="31.8" lengthAdjust="spacingAndGlyphs">a♯ 1864 hz</text>
<rect x="44.6" y="954.2" width="35.4" height="8.6" fill="none" stroke="#555" stroke-width="0.8"/>
<text x="46.8" y="960.5" font-size="6.8" font-family="'DejaVu Sans','Liberation Sans',sans-serif" fill="#222" textLength="31" lengthAdjust="spacingAndGlyphs">b♮ 1975 hz</text>
<rect x="48.5" y="978.8" width="31.5" height="9.1" fill="none" stroke="#555" stroke-width="0.8"/>
<text x="50.7" y="985.6" font-size="6.8" font-family="'DejaVu Sans','Liberation Sans',sans-serif" fill="#222" textLength="27.1" lengthAdjust="spacingAndGlyphs">a♮ 880 hz</text>
<rect x="737" y="998.7" width="30.7" height="8.9" fill="none" stroke="#555" stroke-width="0.8"/>
<text x="739.2" y="1005.3" font-size="6.8" font-family="'DejaVu Sans','Liberation Sans',sans-serif" fill="#222" textLength="26.3" lengthAdjust="spacingAndGlyphs">a♯ 932 hz</text>
<text x="74.3" y="973.1" font-size="9" font-family="'DejaVu Sans','Liberation Sans',sans-serif" fill="#222" text-anchor="end" textLength="17.6" lengthAdjust="spacingAndGlyphs">sines</text>
<line x1="56.7" y1="974.6" x2="74.3" y2="974.6" stroke="#666" stroke-width="0.6"/>
<line x1="85.6" y1="963.4" x2="795.3" y2="963.4" stroke="#444" stroke-width="0.8"/>
<line x1="85.6" y1="969.9" x2="795.3" y2="969.9" stroke="#444" stroke-width="0.8"/>
<line x1="85.6" y1="976.4" x2="795.3" y2="976.4" stroke="#444" stroke-width="0.8"/>
<rect x="89.4" y="967" width="1.3" height="6.2" fill="#111"/>
<rect x="91.6" y="967" width="1.3" height="6.2" fill="#111"/>
<ellipse cx="114.4" cy="962.4" rx="2" ry="1.4" fill="none" stroke="#111" stroke-width="1.5"/>
<ellipse cx="117.6" cy="961.8" rx="2" ry="1.4" fill="none" stroke="#111" stroke-width="1.5"/>
<ellipse cx="114.4" cy="977.6" rx="2" ry="1.4" fill="none" stroke="#111" stroke-width="1.5"/>
<ellipse cx="117.6" cy="977" rx="2" ry="1.4" fill="none" stroke="#111" stroke-width="1.5"/>
<ellipse cx="141.8" cy="962.4" rx="2" ry="1.4" fill="none" stroke="#111" stroke-width="1.5"/>
<ellipse cx="145" cy="961.8" rx="2" ry="1.4" fill="none" stroke="#111" stroke-width="1.5"/>
<ellipse cx="141.8" cy="977.6" rx="2" ry="1.4" fill="none" stroke="#111" stroke-width="1.5"/>
<ellipse cx="145" cy="977" rx="2" ry="1.4" fill="none" stroke="#111" stroke-width="1.5"/>
<ellipse cx="178.4" cy="962.4" rx="2" ry="1.4" fill="none" stroke="#111" stroke-width="1.5"/>
<ellipse cx="181.6" cy="961.8" rx="2" ry="1.4" fill="none" stroke="#111" stroke-width="1.5"/>
<ellipse cx="178.4" cy="977.6" rx="2" ry="1.4" fill="none" stroke="#111" stroke-width="1.5"/>
<ellipse cx="181.6" cy="977" rx="2" ry="1.4" fill="none" stroke="#111" stroke-width="1.5"/>
<ellipse cx="214.2" cy="962.4" rx="2" ry="1.4" fill="none" stroke="#111" stroke-width="1.5"/>
<ellipse cx="217.4" cy="961.8" rx="2" ry="1.4" fill="none" stroke="#111" stroke-width="1.5"/>
<ellipse cx="214.2" cy="977.6" rx="2" ry="1.4" fill="none" stroke="#111" stroke-width="1.5"/>
<ellipse cx="217.4" cy="977" rx="2" ry="1.4" fill="none" stroke="#111" stroke-width="1.5"/>
<ellipse cx="245.4" cy="962.4" rx="2" ry="1.4" fill="none" stroke="#111" stroke-width="1.5"/>
<ellipse cx="248.6" cy="961.8" rx="2" ry="1.4" fill="none" stroke="#111" stroke-width="1.5"/>
<ellipse cx="245.4" cy="977.6" rx="2" ry="1.4" fill="none" stroke="#111" stroke-width="1.5"/>
<ellipse cx="248.6" cy="977" rx="2" ry="1.4" fill="none" stroke="#111" stroke-width="1.5"/>
<ellipse cx="281.2" cy="962.3" rx="2.1" ry="1.4" fill="none" stroke="#111" stroke-width="1.5"/>
<ellipse cx="281.2" cy="965.4" rx="2.1" ry="1.4" fill="none" stroke="#111" stroke-width="1.5"/>
<ellipse cx="279.6" cy="977.6" rx="2" ry="1.4" fill="none" stroke="#111" stroke-width="1.5"/>
<ellipse cx="282.8" cy="977" rx="2" ry="1.4" fill="none" stroke="#111" stroke-width="1.5"/>
<ellipse cx="317" cy="962.3" rx="2.1" ry="1.4" fill="none" stroke="#111" stroke-width="1.5"/>
<ellipse cx="317" cy="965.4" rx="2.1" ry="1.4" fill="none" stroke="#111" stroke-width="1.5"/>
<ellipse cx="315.4" cy="977.6" rx="2" ry="1.4" fill="none" stroke="#111" stroke-width="1.5"/>
<ellipse cx="318.6" cy="977" rx="2" ry="1.4" fill="none" stroke="#111" stroke-width="1.5"/>
<ellipse cx="354.6" cy="962.3" rx="2.1" ry="1.4" fill="none" stroke="#111" stroke-width="1.5"/>
<ellipse cx="354.6" cy="965.4" rx="2.1" ry="1.4" fill="none" stroke="#111" stroke-width="1.5"/>
<ellipse cx="354.6" cy="974.3" rx="2.1" ry="1.4" fill="none" stroke="#111" stroke-width="1.5"/>
<ellipse cx="354.6" cy="977.4" rx="2.1" ry="1.4" fill="none" stroke="#111" stroke-width="1.5"/>
<ellipse cx="385.3" cy="962.3" rx="2.1" ry="1.4" fill="none" stroke="#111" stroke-width="1.5"/>
<ellipse cx="385.3" cy="965.4" rx="2.1" ry="1.4" fill="none" stroke="#111" stroke-width="1.5"/>
<ellipse cx="385.3" cy="974.3" rx="2.1" ry="1.4" fill="none" stroke="#111" stroke-width="1.5"/>
<ellipse cx="385.3" cy="977.4" rx="2.1" ry="1.4" fill="none" stroke="#111" stroke-width="1.5"/>
<ellipse cx="416" cy="962.3" rx="2.1" ry="1.4" fill="none" stroke="#111" stroke-width="1.5"/>
<ellipse cx="416" cy="965.4" rx="2.1" ry="1.4" fill="none" stroke="#111" stroke-width="1.5"/>
<ellipse cx="416" cy="974.3" rx="2.1" ry="1.4" fill="none" stroke="#111" stroke-width="1.5"/>
<ellipse cx="416" cy="977.4" rx="2.1" ry="1.4" fill="none" stroke="#111" stroke-width="1.5"/>
<ellipse cx="453.5" cy="962.3" rx="2.1" ry="1.4" fill="none" stroke="#111" stroke-width="1.5"/>
<ellipse cx="453.5" cy="965.4" rx="2.1" ry="1.4" fill="none" stroke="#111" stroke-width="1.5"/>
<ellipse cx="453.5" cy="974.3" rx="2.1" ry="1.4" fill="none" stroke="#111" stroke-width="1.5"/>
<ellipse cx="453.5" cy="977.4" rx="2.1" ry="1.4" fill="none" stroke="#111" stroke-width="1.5"/>
<ellipse cx="489.4" cy="962.3" rx="2.1" ry="1.4" fill="none" stroke="#111" stroke-width="1.5"/>
<ellipse cx="489.4" cy="965.4" rx="2.1" ry="1.4" fill="none" stroke="#111" stroke-width="1.5"/>
<ellipse cx="489.4" cy="974.3" rx="2.1" ry="1.4" fill="none" stroke="#111" stroke-width="1.5"/>
<ellipse cx="489.4" cy="977.4" rx="2.1" ry="1.4" fill="none" stroke="#111" stroke-width="1.5"/>
<ellipse cx="520.2" cy="961" rx="2.1" ry="1.35" fill="none" stroke="#111" stroke-width="1.5"/>
<ellipse cx="520.2" cy="966.6" rx="2.1" ry="1.35" fill="none" stroke="#111" stroke-width="1.5"/>
<ellipse cx="520.2" cy="973.5" rx="2.1" ry="1.35" fill="none" stroke="#111" stroke-width="1.5"/>
<ellipse cx="520.2" cy="978.2" rx="2.1" ry="1.35" fill="none" stroke="#111" stroke-width="1.5"/>
<ellipse cx="550.3" cy="961" rx="2.1" ry="1.35" fill="none" stroke="#111" stroke-width="1.5"/>
<ellipse cx="550.3" cy="968.5" rx="2.1" ry="1.35" fill="none" stroke="#111" stroke-width="1.5"/>
<ellipse cx="550.3" cy="973.5" rx="2.1" ry="1.35" fill="none" stroke="#111" stroke-width="1.5"/>
<ellipse cx="550.3" cy="978.2" rx="2.1" ry="1.35" fill="none" stroke="#111" stroke-width="1.5"/>
<ellipse cx="581.7" cy="961" rx="2.1" ry="1.35" fill="none" stroke="#111" stroke-width="1.5"/>
<ellipse cx="581.7" cy="968.5" rx="2.1" ry="1.35" fill="none" stroke="#111" stroke-width="1.5"/>
<ellipse cx="581.7" cy="973.5" rx="2.1" ry="1.35" fill="none" stroke="#111" stroke-width="1.5"/>
<ellipse cx="581.7" cy="978.2" rx="2.1" ry="1.35" fill="none" stroke="#111" stroke-width="1.5"/>
<ellipse cx="614.1" cy="961" rx="2.1" ry="1.35" fill="none" stroke="#111" stroke-width="1.5"/>
<ellipse cx="614.1" cy="967.6" rx="2.1" ry="1.35" fill="none" stroke="#111" stroke-width="1.5"/>
<ellipse cx="614.1" cy="970.6" rx="2.1" ry="1.35" fill="none" stroke="#111" stroke-width="1.5"/>
<ellipse cx="614.1" cy="978.2" rx="2.1" ry="1.35" fill="none" stroke="#111" stroke-width="1.5"/>
<ellipse cx="641.4" cy="961" rx="2.1" ry="1.35" fill="none" stroke="#111" stroke-width="1.5"/>
<ellipse cx="641.4" cy="967.6" rx="2.1" ry="1.35" fill="none" stroke="#111" stroke-width="1.5"/>
<ellipse cx="641.4" cy="970.6" rx="2.1" ry="1.35" fill="none" stroke="#111" stroke-width="1.5"/>
<ellipse cx="641.4" cy="978.2" rx="2.1" ry="1.35" fill="none" stroke="#111" stroke-width="1.5"/>
<ellipse cx="675.5" cy="961.3" rx="2.1" ry="1.35" fill="none" stroke="#111" stroke-width="1.5"/>
<ellipse cx="675.5" cy="978.3" rx="2.1" ry="1.35" fill="none" stroke="#111" stroke-width="1.5"/>
<ellipse cx="673.7" cy="970.6" rx="2" ry="1.35" fill="none" stroke="#111" stroke-width="1.5"/>
<ellipse cx="677.3" cy="969.8" rx="2" ry="1.35" fill="none" stroke="#111" stroke-width="1.5"/>
<ellipse cx="713" cy="961.3" rx="2.1" ry="1.35" fill="none" stroke="#111" stroke-width="1.5"/>
<ellipse cx="713" cy="978.3" rx="2.1" ry="1.35" fill="none" stroke="#111" stroke-width="1.5"/>
<ellipse cx="711.2" cy="970.6" rx="2" ry="1.35" fill="none" stroke="#111" stroke-width="1.5"/>
<ellipse cx="714.8" cy="969.8" rx="2" ry="1.35" fill="none" stroke="#111" stroke-width="1.5"/>
<ellipse cx="747.2" cy="961.3" rx="2.1" ry="1.35" fill="none" stroke="#111" stroke-width="1.5"/>
<ellipse cx="747.2" cy="978.3" rx="2.1" ry="1.35" fill="none" stroke="#111" stroke-width="1.5"/>
<ellipse cx="745.4" cy="970.6" rx="2" ry="1.35" fill="none" stroke="#111" stroke-width="1.5"/>
<ellipse cx="749" cy="969.8" rx="2" ry="1.35" fill="none" stroke="#111" stroke-width="1.5"/>
<ellipse cx="779.6" cy="961.3" rx="2.1" ry="1.35" fill="none" stroke="#111" stroke-width="1.5"/>
<ellipse cx="779.6" cy="978.3" rx="2.1" ry="1.35" fill="none" stroke="#111" stroke-width="1.5"/>
<ellipse cx="777.8" cy="970.6" rx="2" ry="1.35" fill="none" stroke="#111" stroke-width="1.5"/>
<ellipse cx="781.4" cy="969.8" rx="2" ry="1.35" fill="none" stroke="#111" stroke-width="1.5"/>
<ellipse cx="129.7" cy="961" rx="10.7" ry="4.6" fill="none" stroke="#777" stroke-width="0.8"/>
<ellipse cx="129.7" cy="979" rx="10.7" ry="4.8" fill="none" stroke="#777" stroke-width="0.8"/>
<ellipse cx="161.7" cy="961" rx="15.3" ry="4.6" fill="none" stroke="#777" stroke-width="0.8"/>
<ellipse cx="161.7" cy="979" rx="15.3" ry="4.8" fill="none" stroke="#777" stroke-width="0.8"/>
<ellipse cx="197.9" cy="961" rx="14.9" ry="4.6" fill="none" stroke="#777" stroke-width="0.8"/>
<ellipse cx="197.9" cy="979" rx="14.9" ry="4.8" fill="none" stroke="#777" stroke-width="0.8"/>
<ellipse cx="231.4" cy="961" rx="12.6" ry="4.6" fill="none" stroke="#777" stroke-width="0.8"/>
<ellipse cx="231.4" cy="979" rx="12.6" ry="4.8" fill="none" stroke="#777" stroke-width="0.8"/>
<ellipse cx="264.1" cy="961" rx="14.1" ry="4.6" fill="none" stroke="#777" stroke-width="0.8"/>
<ellipse cx="264.1" cy="979" rx="14.1" ry="4.8" fill="none" stroke="#777" stroke-width="0.8"/>
<ellipse cx="299.1" cy="961" rx="14.9" ry="4.6" fill="none" stroke="#777" stroke-width="0.8"/>
<ellipse cx="299.1" cy="979" rx="14.9" ry="4.8" fill="none" stroke="#777" stroke-width="0.8"/>
<ellipse cx="335.8" cy="961" rx="15.8" ry="4.6" fill="none" stroke="#777" stroke-width="0.8"/>
<ellipse cx="335.8" cy="979" rx="15.8" ry="4.8" fill="none" stroke="#777" stroke-width="0.8"/>
<ellipse cx="369.95" cy="961" rx="12.35" ry="4.6" fill="none" stroke="#777" stroke-width="0.8"/>
<ellipse cx="369.95" cy="979" rx="12.35" ry="4.8" fill="none" stroke="#777" stroke-width="0.8"/>
<ellipse cx="400.65" cy="961" rx="12.35" ry="4.6" fill="none" stroke="#777" stroke-width="0.8"/>
<ellipse cx="400.65" cy="979" rx="12.35" ry="4.8" fill="none" stroke="#777" stroke-width="0.8"/>
<ellipse cx="434.75" cy="961" rx="15.75" ry="4.6" fill="none" stroke="#777" stroke-width="0.8"/>
<ellipse cx="434.75" cy="979" rx="15.75" ry="4.8" fill="none" stroke="#777" stroke-width="0.8"/>
<ellipse cx="471.45" cy="961" rx="14.95" ry="4.6" fill="none" stroke="#777" stroke-width="0.8"/>
<ellipse cx="471.45" cy="979" rx="14.95" ry="4.8" fill="none" stroke="#777" stroke-width="0.8"/>
<ellipse cx="504.8" cy="961" rx="12.4" ry="4.6" fill="none" stroke="#777" stroke-width="0.8"/>
<ellipse cx="504.8" cy="979" rx="12.4" ry="4.8" fill="none" stroke="#777" stroke-width="0.8"/>
<ellipse cx="535.25" cy="961" rx="12.05" ry="4.6" fill="none" stroke="#777" stroke-width="0.8"/>
<ellipse cx="535.25" cy="979" rx="12.05" ry="4.8" fill="none" stroke="#777" stroke-width="0.8"/>
<ellipse cx="566" cy="961" rx="12.7" ry="4.6" fill="none" stroke="#777" stroke-width="0.8"/>
<ellipse cx="566" cy="979" rx="12.7" ry="4.8" fill="none" stroke="#777" stroke-width="0.8"/>
<ellipse cx="597.9" cy="961" rx="13.2" ry="4.6" fill="none" stroke="#777" stroke-width="0.8"/>
<ellipse cx="597.9" cy="979" rx="13.2" ry="4.8" fill="none" stroke="#777" stroke-width="0.8"/>
<ellipse cx="627.75" cy="961" rx="10.65" ry="4.6" fill="none" stroke="#777" stroke-width="0.8"/>
<ellipse cx="627.75" cy="979" rx="10.65" ry="4.8" fill="none" stroke="#777" stroke-width="0.8"/>
<ellipse cx="658.45" cy="961" rx="14.05" ry="4.6" fill="none" stroke="#777" stroke-width="0.8"/>
<ellipse cx="658.45" cy="979" rx="14.05" ry="4.8" fill="none" stroke="#777" stroke-width="0.8"/>
<ellipse cx="658.45" cy="970.2" rx="12.05" ry="2.2" fill="none" stroke="#888" stroke-width="0.7"/>
<ellipse cx="694.25" cy="961" rx="15.75" ry="4.6" fill="none" stroke="#777" stroke-width="0.8"/>
<ellipse cx="694.25" cy="979" rx="15.75" ry="4.8" fill="none" stroke="#777" stroke-width="0.8"/>
<ellipse cx="694.25" cy="970.2" rx="13.75" ry="2.2" fill="none" stroke="#888" stroke-width="0.7"/>
<ellipse cx="730.1" cy="961" rx="14.1" ry="4.6" fill="none" stroke="#777" stroke-width="0.8"/>
<ellipse cx="730.1" cy="979" rx="14.1" ry="4.8" fill="none" stroke="#777" stroke-width="0.8"/>
<ellipse cx="730.1" cy="970.2" rx="12.1" ry="2.2" fill="none" stroke="#888" stroke-width="0.7"/>
<ellipse cx="763.4" cy="961" rx="13.2" ry="4.6" fill="none" stroke="#777" stroke-width="0.8"/>
<ellipse cx="763.4" cy="979" rx="13.2" ry="4.8" fill="none" stroke="#777" stroke-width="0.8"/>
<ellipse cx="763.4" cy="970.2" rx="11.2" ry="2.2" fill="none" stroke="#888" stroke-width="0.7"/>
<line x1="134.3" y1="961" x2="134.3" y2="979" stroke="#111" stroke-width="1.8"/>
<line x1="402.6" y1="961" x2="402.6" y2="979" stroke="#111" stroke-width="1.8"/>
<line x1="659.2" y1="961" x2="659.2" y2="979" stroke="#111" stroke-width="1.8"/>
<line x1="171.2" y1="968.5" x2="171.2" y2="971.5" stroke="#777" stroke-width="0.6"/>
<line x1="207.4" y1="968.5" x2="207.4" y2="971.5" stroke="#777" stroke-width="0.6"/>
<line x1="238" y1="968.5" x2="238" y2="971.5" stroke="#777" stroke-width="0.6"/>
<line x1="304.7" y1="968.5" x2="304.7" y2="971.5" stroke="#777" stroke-width="0.6"/>
<line x1="341" y1="968.5" x2="341" y2="971.5" stroke="#777" stroke-width="0.6"/>
<line x1="371.6" y1="968.5" x2="371.6" y2="971.5" stroke="#777" stroke-width="0.6"/>
<line x1="439.4" y1="968.5" x2="439.4" y2="971.5" stroke="#777" stroke-width="0.6"/>
<line x1="477" y1="968.5" x2="477" y2="971.5" stroke="#777" stroke-width="0.6"/>
<line x1="506.6" y1="968.5" x2="506.6" y2="971.5" stroke="#777" stroke-width="0.6"/>
<line x1="568.2" y1="968.5" x2="568.2" y2="971.5" stroke="#777" stroke-width="0.6"/>
<line x1="598.2" y1="968.5" x2="598.2" y2="971.5" stroke="#777" stroke-width="0.6"/>
<line x1="629.3" y1="968.5" x2="629.3" y2="971.5" stroke="#777" stroke-width="0.6"/>
<line x1="697.1" y1="968.5" x2="697.1" y2="971.5" stroke="#777" stroke-width="0.6"/>
<line x1="734.1" y1="968.5" x2="734.1" y2="971.5" stroke="#777" stroke-width="0.6"/>
<line x1="765.9" y1="968.5" x2="765.9" y2="971.5" stroke="#777" stroke-width="0.6"/>
<line x1="247" y1="962" x2="281" y2="964.8" stroke="#222" stroke-width="1.4"/>
<line x1="317" y1="977.2" x2="354" y2="974.3" stroke="#222" stroke-width="1.4"/>
<line x1="453" y1="964.5" x2="489" y2="966.8" stroke="#222" stroke-width="1.4"/>
<line x1="453" y1="977.2" x2="489" y2="975.8" stroke="#222" stroke-width="1.4"/>
<line x1="520" y1="966.6" x2="550" y2="969.5" stroke="#222" stroke-width="1.4"/>
<line x1="581" y1="975.5" x2="614" y2="973" stroke="#222" stroke-width="1.4"/>
<line x1="642" y1="969.2" x2="660" y2="970.5" stroke="#222" stroke-width="1.4"/>
<line x1="680" y1="970" x2="713" y2="969.2" stroke="#222" stroke-width="1.4"/>
<line x1="713" y1="969.5" x2="747" y2="968.5" stroke="#222" stroke-width="1.4"/>
<line x1="268.5" y1="964" x2="268.5" y2="976" stroke="#333" stroke-width="0.9"/>
<line x1="489.4" y1="965" x2="489.4" y2="978" stroke="#111" stroke-width="1.4"/>
<line x1="659.2" y1="963" x2="659.2" y2="979" stroke="#111" stroke-width="2.2"/>
<rect x="503" y="966.6" width="292.3" height="6.6" fill="none" stroke="#555" stroke-width="0.7"/>
<text x="71.2" y="1018.1" font-size="6.4" font-family="'DejaVu Sans','Liberation Sans',sans-serif" fill="#555" text-anchor="middle">E</text>
<text x="71.2" y="1025.4" font-size="6.4" font-family="'DejaVu Sans','Liberation Sans',sans-serif" fill="#555" text-anchor="middle">I</text>
<text x="71.2" y="1033.6" font-size="6.4" font-family="'DejaVu Sans','Liberation Sans',sans-serif" fill="#555" text-anchor="middle">B</text>
<text x="71.2" y="1040.9" font-size="6.4" font-family="'DejaVu Sans','Liberation Sans',sans-serif" fill="#555" text-anchor="middle">O</text>
<text x="71.2" y="1048.4" font-size="6.4" font-family="'DejaVu Sans','Liberation Sans',sans-serif" fill="#555" text-anchor="middle">W</text>
<text x="71.2" y="1063.4" font-size="6.4" font-family="'DejaVu Sans','Liberation Sans',sans-serif" fill="#555" text-anchor="middle">P</text>
<text x="71.2" y="1071.2" font-size="6.4" font-family="'DejaVu Sans','Liberation Sans',sans-serif" fill="#555" text-anchor="middle">I</text>
<text x="71.2" y="1078.1" font-size="6.4" font-family="'DejaVu Sans','Liberation Sans',sans-serif" fill="#555" text-anchor="middle">A</text>
<text x="71.2" y="1085.9" font-size="6.4" font-family="'DejaVu Sans','Liberation Sans',sans-serif" fill="#555" text-anchor="middle">N</text>
<text x="71.2" y="1093.7" font-size="6.4" font-family="'DejaVu Sans','Liberation Sans',sans-serif" fill="#555" text-anchor="middle">O</text>
<rect x="116.5" y="1002.8" width="11.7" height="9" fill="none" stroke="#444" stroke-width="0.8"/>
<line x1="120.3" y1="1004" x2="120.3" y2="1010.8" stroke="#111" stroke-width="0.7"/>
<line x1="124.4" y1="1004" x2="124.4" y2="1010.8" stroke="#111" stroke-width="0.7"/>
<path d="M119.1 1009.4 L120.3 1011 L121.5 1009.4" fill="none" stroke="#111" stroke-width="0.6"/>
<path d="M123.2 1005.4 L124.4 1003.8 L125.6 1005.4" fill="none" stroke="#111" stroke-width="0.6"/>
<line x1="129" y1="1006" x2="147" y2="1006" stroke="#777" stroke-width="0.6" stroke-dasharray="1 1"/>
<line x1="85.6" y1="1028.4" x2="795.3" y2="1028.4" stroke="#333" stroke-width="0.8"/>
<line x1="85.6" y1="1031.7" x2="795.3" y2="1031.7" stroke="#333" stroke-width="0.8"/>
<line x1="85.6" y1="1035" x2="795.3" y2="1035" stroke="#333" stroke-width="0.8"/>
<line x1="85.6" y1="1038.3" x2="795.3" y2="1038.3" stroke="#333" stroke-width="0.8"/>
<line x1="85.6" y1="1041.6" x2="795.3" y2="1041.6" stroke="#333" stroke-width="0.8"/>
<line x1="85.6" y1="1069.3" x2="795.3" y2="1069.3" stroke="#333" stroke-width="0.8"/>
<line x1="85.6" y1="1072.75" x2="795.3" y2="1072.75" stroke="#333" stroke-width="0.8"/>
<line x1="85.6" y1="1076.2" x2="795.3" y2="1076.2" stroke="#333" stroke-width="0.8"/>
<line x1="85.6" y1="1079.65" x2="795.3" y2="1079.65" stroke="#333" stroke-width="0.8"/>
<line x1="85.6" y1="1083.1" x2="795.3" y2="1083.1" stroke="#333" stroke-width="0.8"/>
<rect x="134" y="1033.2" width="661.3" height="4.2" fill="#8a8a8a" stroke="#1a1a1a" stroke-width="0.9"/>
<rect x="134" y="1073.6" width="661.3" height="2.6" fill="#222"/>
<line x1="129.4" y1="1066.4" x2="795.3" y2="1066.4" stroke="#111" stroke-width="1.3"/>
<line x1="83.6" y1="1027.9" x2="83.6" y2="1083.5" stroke="#111" stroke-width="2.2"/>
<g transform="translate(88.4 1024) scale(1.06)"><path d="M5.6 14.6 C4.2 15 3.2 13.8 3.8 12.4 C4.6 10.6 8 10.6 8.8 13.4 C9.6 16.6 7 19.2 4.4 19 C1.6 18.8 0 16.4 0.6 13.6 C1.4 10.2 5.8 8.2 6.8 4.6 C7.4 2.2 7 -0.8 6 -0.8 C4.8 -0.8 4.2 1.8 4.3 4.6 L5.8 20.4 C6 22.2 5 23.2 3.9 23" fill="none" stroke="#111" stroke-width="1.2" stroke-linecap="round" stroke-linejoin="round"/><circle cx="3.5" cy="22.3" r="1.45" fill="#111"/></g>
<g transform="translate(88.2 1069) scale(1.04)"><path d="M0.8 3.2 C1 0.8 4 0.2 5.6 1.4 C7.6 3 7 7.4 1 11" fill="none" stroke="#111" stroke-width="1.3"/><circle cx="1.6" cy="3.4" r="1.3" fill="#111"/><circle cx="8.6" cy="2.4" r="0.7" fill="#111"/><circle cx="8.6" cy="5.4" r="0.7" fill="#111"/></g>
<line x1="133.7" y1="1027.9" x2="133.7" y2="1083.5" stroke="#111" stroke-width="2"/>
<line x1="403" y1="1027.9" x2="403" y2="1083.5" stroke="#111" stroke-width="2"/>
<line x1="660" y1="1027.9" x2="660" y2="1083.5" stroke="#111" stroke-width="2"/>
<line x1="268.2" y1="1028.4" x2="268.2" y2="1083.1" stroke="#333" stroke-width="0.8"/>
<line x1="537.5" y1="1028.4" x2="537.5" y2="1083.1" stroke="#333" stroke-width="0.8"/>
<line x1="795.3" y1="1028.4" x2="795.3" y2="1083.1" stroke="#333" stroke-width="0.8"/>
<line x1="170.6" y1="1028.4" x2="170.6" y2="1083.1" stroke="#444" stroke-width="0.8" stroke-dasharray="2.4 2.2"/>
<line x1="207" y1="1028.4" x2="207" y2="1083.1" stroke="#444" stroke-width="0.8" stroke-dasharray="2.4 2.2"/>
<line x1="237.6" y1="1028.4" x2="237.6" y2="1083.1" stroke="#444" stroke-width="0.8" stroke-dasharray="2.4 2.2"/>
<line x1="304.2" y1="1028.4" x2="304.2" y2="1083.1" stroke="#444" stroke-width="0.8" stroke-dasharray="2.4 2.2"/>
<line x1="340.5" y1="1028.4" x2="340.5" y2="1083.1" stroke="#444" stroke-width="0.8" stroke-dasharray="2.4 2.2"/>
<line x1="371.8" y1="1028.4" x2="371.8" y2="1083.1" stroke="#444" stroke-width="0.8" stroke-dasharray="2.4 2.2"/>
<line x1="439.3" y1="1028.4" x2="439.3" y2="1083.1" stroke="#444" stroke-width="0.8" stroke-dasharray="2.4 2.2"/>
<line x1="476.5" y1="1028.4" x2="476.5" y2="1083.1" stroke="#444" stroke-width="0.8" stroke-dasharray="2.4 2.2"/>
<line x1="506.1" y1="1028.4" x2="506.1" y2="1083.1" stroke="#444" stroke-width="0.8" stroke-dasharray="2.4 2.2"/>
<line x1="568.2" y1="1028.4" x2="568.2" y2="1083.1" stroke="#444" stroke-width="0.8" stroke-dasharray="2.4 2.2"/>
<line x1="598.2" y1="1028.4" x2="598.2" y2="1083.1" stroke="#444" stroke-width="0.8" stroke-dasharray="2.4 2.2"/>
<line x1="629.3" y1="1028.4" x2="629.3" y2="1083.1" stroke="#444" stroke-width="0.8" stroke-dasharray="2.4 2.2"/>
<line x1="697.1" y1="1028.4" x2="697.1" y2="1083.1" stroke="#444" stroke-width="0.8" stroke-dasharray="2.4 2.2"/>
<line x1="734.1" y1="1028.4" x2="734.1" y2="1083.1" stroke="#444" stroke-width="0.8" stroke-dasharray="2.4 2.2"/>
<line x1="765.9" y1="1028.4" x2="765.9" y2="1083.1" stroke="#444" stroke-width="0.8" stroke-dasharray="2.4 2.2"/>
<ellipse cx="113" cy="1031.5" rx="13" ry="4.5" fill="none" stroke="#777" stroke-width="0.7"/>
<ellipse cx="113" cy="1072.5" rx="13" ry="4.5" fill="none" stroke="#777" stroke-width="0.7"/>
<text x="105.5" y="1036.5" font-size="6.5" font-family="'DejaVu Sans','Liberation Sans',sans-serif" fill="#444">♮</text>
<text x="111.5" y="1033.5" font-size="6.5" font-family="'DejaVu Sans','Liberation Sans',sans-serif" fill="#444">♭</text>
<text x="105.5" y="1076.5" font-size="6.5" font-family="'DejaVu Sans','Liberation Sans',sans-serif" fill="#444">♮</text>
<text x="111.5" y="1070.5" font-size="6.5" font-family="'DejaVu Sans','Liberation Sans',sans-serif" fill="#444">♭</text>
<rect x="118.5" y="1030.7" width="2.4" height="2.6" fill="#222"/>
<rect x="122.3" y="1030.7" width="2.4" height="2.6" fill="#222"/>
<rect x="118.5" y="1034.9" width="2.4" height="2.6" fill="#222"/>
<rect x="122.3" y="1034.9" width="2.4" height="2.6" fill="#222"/>
<rect x="118.5" y="1068.2" width="2.4" height="2.6" fill="#222"/>
<rect x="122.3" y="1068.2" width="2.4" height="2.6" fill="#222"/>
<rect x="118.5" y="1072.7" width="2.4" height="2.6" fill="#222"/>
<rect x="122.3" y="1072.7" width="2.4" height="2.6" fill="#222"/>
<path d="M125.5 1049.8 L101.2 1053.6 L125.5 1057.3" fill="none" stroke="#555" stroke-width="0.8"/>
<path d="M141 1021.3 L145.4 1019 L145.4 1023.6 Z M150.8 1021.3 L146.4 1019 L146.4 1023.6 Z" fill="#111" stroke="#111" stroke-width="0.4"/>
<line x1="141.9" y1="1018.1" x2="141.9" y2="1024.6" stroke="#666" stroke-width="0.7"/>
<line x1="149.9" y1="1018.1" x2="149.9" y2="1024.6" stroke="#666" stroke-width="0.7"/>
<line x1="141.1" y1="1024.6" x2="150.7" y2="1024.6" stroke="#777" stroke-width="0.8"/>
<text x="134.4" y="1023.6" font-size="7.5" font-family="'DejaVu Sans','Liberation Sans',sans-serif" fill="#222">♭</text>
<path d="M178.6 1021.3 L183 1019 L183 1023.6 Z M188.4 1021.3 L184 1019 L184 1023.6 Z" fill="#111" stroke="#111" stroke-width="0.4"/>
<line x1="179.5" y1="1018.1" x2="179.5" y2="1024.6" stroke="#666" stroke-width="0.7"/>
<line x1="187.5" y1="1018.1" x2="187.5" y2="1024.6" stroke="#666" stroke-width="0.7"/>
<line x1="178.7" y1="1024.6" x2="188.3" y2="1024.6" stroke="#777" stroke-width="0.8"/>
<path d="M215.1 1021.3 L219.5 1019 L219.5 1023.6 Z M224.9 1021.3 L220.5 1019 L220.5 1023.6 Z" fill="#111" stroke="#111" stroke-width="0.4"/>
<line x1="216" y1="1018.1" x2="216" y2="1024.6" stroke="#666" stroke-width="0.7"/>
<line x1="224" y1="1018.1" x2="224" y2="1024.6" stroke="#666" stroke-width="0.7"/>
<line x1="215.2" y1="1024.6" x2="224.8" y2="1024.6" stroke="#777" stroke-width="0.8"/>
<path d="M245.7 1021.3 L250.1 1019 L250.1 1023.6 Z M255.5 1021.3 L251.1 1019 L251.1 1023.6 Z" fill="#111" stroke="#111" stroke-width="0.4"/>
<line x1="246.6" y1="1018.1" x2="246.6" y2="1024.6" stroke="#666" stroke-width="0.7"/>
<line x1="254.6" y1="1018.1" x2="254.6" y2="1024.6" stroke="#666" stroke-width="0.7"/>
<line x1="245.8" y1="1024.6" x2="255.4" y2="1024.6" stroke="#777" stroke-width="0.8"/>
<path d="M276.3 1021.3 L280.7 1019 L280.7 1023.6 Z M286.1 1021.3 L281.7 1019 L281.7 1023.6 Z" fill="#111" stroke="#111" stroke-width="0.4"/>
<line x1="277.2" y1="1018.1" x2="277.2" y2="1024.6" stroke="#666" stroke-width="0.7"/>
<line x1="285.2" y1="1018.1" x2="285.2" y2="1024.6" stroke="#666" stroke-width="0.7"/>
<line x1="276.4" y1="1024.6" x2="286" y2="1024.6" stroke="#777" stroke-width="0.8"/>
<path d="M312.5 1021.3 L316.9 1019 L316.9 1023.6 Z M322.3 1021.3 L317.9 1019 L317.9 1023.6 Z" fill="#111" stroke="#111" stroke-width="0.4"/>
<line x1="313.4" y1="1018.1" x2="313.4" y2="1024.6" stroke="#666" stroke-width="0.7"/>
<line x1="321.4" y1="1018.1" x2="321.4" y2="1024.6" stroke="#666" stroke-width="0.7"/>
<line x1="312.6" y1="1024.6" x2="322.2" y2="1024.6" stroke="#777" stroke-width="0.8"/>
<path d="M348.7 1021.3 L353.1 1019 L353.1 1023.6 Z M358.5 1021.3 L354.1 1019 L354.1 1023.6 Z" fill="#111" stroke="#111" stroke-width="0.4"/>
<line x1="349.6" y1="1018.1" x2="349.6" y2="1024.6" stroke="#666" stroke-width="0.7"/>
<line x1="357.6" y1="1018.1" x2="357.6" y2="1024.6" stroke="#666" stroke-width="0.7"/>
<line x1="348.8" y1="1024.6" x2="358.4" y2="1024.6" stroke="#777" stroke-width="0.8"/>
<path d="M411.3 1021.3 L415.7 1019 L415.7 1023.6 Z M421.1 1021.3 L416.7 1019 L416.7 1023.6 Z" fill="#111" stroke="#111" stroke-width="0.4"/>
<line x1="412.2" y1="1018.1" x2="412.2" y2="1024.6" stroke="#666" stroke-width="0.7"/>
<line x1="420.2" y1="1018.1" x2="420.2" y2="1024.6" stroke="#666" stroke-width="0.7"/>
<line x1="411.4" y1="1024.6" x2="421" y2="1024.6" stroke="#777" stroke-width="0.8"/>
<path d="M447.5 1021.3 L451.9 1019 L451.9 1023.6 Z M457.3 1021.3 L452.9 1019 L452.9 1023.6 Z" fill="#111" stroke="#111" stroke-width="0.4"/>
<line x1="448.4" y1="1018.1" x2="448.4" y2="1024.6" stroke="#666" stroke-width="0.7"/>
<line x1="456.4" y1="1018.1" x2="456.4" y2="1024.6" stroke="#666" stroke-width="0.7"/>
<line x1="447.6" y1="1024.6" x2="457.2" y2="1024.6" stroke="#777" stroke-width="0.8"/>
<path d="M483.8 1021.3 L488.2 1019 L488.2 1023.6 Z M493.6 1021.3 L489.2 1019 L489.2 1023.6 Z" fill="#111" stroke="#111" stroke-width="0.4"/>
<line x1="484.7" y1="1018.1" x2="484.7" y2="1024.6" stroke="#666" stroke-width="0.7"/>
<line x1="492.7" y1="1018.1" x2="492.7" y2="1024.6" stroke="#666" stroke-width="0.7"/>
<line x1="483.9" y1="1024.6" x2="493.5" y2="1024.6" stroke="#777" stroke-width="0.8"/>
<path d="M515 1021.3 L519.4 1019 L519.4 1023.6 Z M524.8 1021.3 L520.4 1019 L520.4 1023.6 Z" fill="#111" stroke="#111" stroke-width="0.4"/>
<line x1="515.9" y1="1018.1" x2="515.9" y2="1024.6" stroke="#666" stroke-width="0.7"/>
<line x1="523.9" y1="1018.1" x2="523.9" y2="1024.6" stroke="#666" stroke-width="0.7"/>
<line x1="515.1" y1="1024.6" x2="524.7" y2="1024.6" stroke="#777" stroke-width="0.8"/>
<path d="M545.7 1021.3 L550.1 1019 L550.1 1023.6 Z M555.5 1021.3 L551.1 1019 L551.1 1023.6 Z" fill="#111" stroke="#111" stroke-width="0.4"/>
<line x1="546.6" y1="1018.1" x2="546.6" y2="1024.6" stroke="#666" stroke-width="0.7"/>
<line x1="554.6" y1="1018.1" x2="554.6" y2="1024.6" stroke="#666" stroke-width="0.7"/>
<line x1="545.8" y1="1024.6" x2="555.4" y2="1024.6" stroke="#777" stroke-width="0.8"/>
<path d="M575.7 1021.3 L580.1 1019 L580.1 1023.6 Z M585.5 1021.3 L581.1 1019 L581.1 1023.6 Z" fill="#111" stroke="#111" stroke-width="0.4"/>
<line x1="576.6" y1="1018.1" x2="576.6" y2="1024.6" stroke="#666" stroke-width="0.7"/>
<line x1="584.6" y1="1018.1" x2="584.6" y2="1024.6" stroke="#666" stroke-width="0.7"/>
<line x1="575.8" y1="1024.6" x2="585.4" y2="1024.6" stroke="#777" stroke-width="0.8"/>
<path d="M605.7 1021.3 L610.1 1019 L610.1 1023.6 Z M615.5 1021.3 L611.1 1019 L611.1 1023.6 Z" fill="#111" stroke="#111" stroke-width="0.4"/>
<line x1="606.6" y1="1018.1" x2="606.6" y2="1024.6" stroke="#666" stroke-width="0.7"/>
<line x1="614.6" y1="1018.1" x2="614.6" y2="1024.6" stroke="#666" stroke-width="0.7"/>
<line x1="605.8" y1="1024.6" x2="615.4" y2="1024.6" stroke="#777" stroke-width="0.8"/>
<path d="M665.7 1021.3 L670.1 1019 L670.1 1023.6 Z M675.5 1021.3 L671.1 1019 L671.1 1023.6 Z" fill="#111" stroke="#111" stroke-width="0.4"/>
<line x1="666.6" y1="1018.1" x2="666.6" y2="1024.6" stroke="#666" stroke-width="0.7"/>
<line x1="674.6" y1="1018.1" x2="674.6" y2="1024.6" stroke="#666" stroke-width="0.7"/>
<line x1="665.8" y1="1024.6" x2="675.4" y2="1024.6" stroke="#777" stroke-width="0.8"/>
<text x="659.1" y="1023.6" font-size="7.5" font-family="'DejaVu Sans','Liberation Sans',sans-serif" fill="#222">♭</text>
<path d="M706.3 1021.3 L710.7 1019 L710.7 1023.6 Z M716.1 1021.3 L711.7 1019 L711.7 1023.6 Z" fill="#111" stroke="#111" stroke-width="0.4"/>
<line x1="707.2" y1="1018.1" x2="707.2" y2="1024.6" stroke="#666" stroke-width="0.7"/>
<line x1="715.2" y1="1018.1" x2="715.2" y2="1024.6" stroke="#666" stroke-width="0.7"/>
<line x1="706.4" y1="1024.6" x2="716" y2="1024.6" stroke="#777" stroke-width="0.8"/>
<path d="M742.3 1021.3 L746.7 1019 L746.7 1023.6 Z M752.1 1021.3 L747.7 1019 L747.7 1023.6 Z" fill="#111" stroke="#111" stroke-width="0.4"/>
<line x1="743.2" y1="1018.1" x2="743.2" y2="1024.6" stroke="#666" stroke-width="0.7"/>
<line x1="751.2" y1="1018.1" x2="751.2" y2="1024.6" stroke="#666" stroke-width="0.7"/>
<line x1="742.4" y1="1024.6" x2="752" y2="1024.6" stroke="#777" stroke-width="0.8"/>
<path d="M773.4 1021.3 L777.8 1019 L777.8 1023.6 Z M783.2 1021.3 L778.8 1019 L778.8 1023.6 Z" fill="#111" stroke="#111" stroke-width="0.4"/>
<line x1="774.3" y1="1018.1" x2="774.3" y2="1024.6" stroke="#666" stroke-width="0.7"/>
<line x1="782.3" y1="1018.1" x2="782.3" y2="1024.6" stroke="#666" stroke-width="0.7"/>
<line x1="773.5" y1="1024.6" x2="783.1" y2="1024.6" stroke="#777" stroke-width="0.8"/>
<ellipse cx="381.6" cy="1020.6" rx="2" ry="1.5" fill="#111" transform="rotate(-20 381.6 1020.6)"/>
<line x1="383.3" y1="1020.3" x2="383.3" y2="1012.3" stroke="#111" stroke-width="0.8"/>
<path d="M383.3 1012.3 C385.1 1014 386.1 1015 385.8 1017" fill="none" stroke="#111" stroke-width="0.9"/>
<line x1="378.6" y1="1024" x2="384.6" y2="1024" stroke="#777" stroke-width="0.6"/>
<ellipse cx="637.8" cy="1020.6" rx="2" ry="1.5" fill="#111" transform="rotate(-20 637.8 1020.6)"/>
<line x1="639.5" y1="1020.3" x2="639.5" y2="1012.3" stroke="#111" stroke-width="0.8"/>
<path d="M639.5 1012.3 C641.3 1014 642.3 1015 642 1017" fill="none" stroke="#111" stroke-width="0.9"/>
<line x1="634.8" y1="1024" x2="640.8" y2="1024" stroke="#777" stroke-width="0.6"/>
<path d="M148.9 1016.5 Q165.7 1004.7 182.5 1016.5" fill="none" stroke="#555" stroke-width="0.8" stroke-dasharray="2.2 1.8"/>
<path d="M186.5 1016.5 Q202.75 1004.7 219 1016.5" fill="none" stroke="#555" stroke-width="0.8" stroke-dasharray="2.2 1.8"/>
<path d="M223 1016.5 Q236.3 1004.7 249.6 1016.5" fill="none" stroke="#555" stroke-width="0.8" stroke-dasharray="2.2 1.8"/>
<path d="M253.6 1016.5 Q266.9 1004.7 280.2 1016.5" fill="none" stroke="#555" stroke-width="0.8" stroke-dasharray="2.2 1.8"/>
<path d="M284.2 1016.5 Q300.3 1004.7 316.4 1016.5" fill="none" stroke="#555" stroke-width="0.8" stroke-dasharray="2.2 1.8"/>
<path d="M320.4 1016.5 Q336.5 1004.7 352.6 1016.5" fill="none" stroke="#555" stroke-width="0.8" stroke-dasharray="2.2 1.8"/>
<path d="M356.6 1016.5 Q369.55 1004.7 382.5 1016.5" fill="none" stroke="#555" stroke-width="0.8" stroke-dasharray="2.2 1.8"/>
<path d="M419.2 1016.5 Q435.3 1004.7 451.4 1016.5" fill="none" stroke="#555" stroke-width="0.8" stroke-dasharray="2.2 1.8"/>
<path d="M455.4 1016.5 Q471.55 1004.7 487.7 1016.5" fill="none" stroke="#555" stroke-width="0.8" stroke-dasharray="2.2 1.8"/>
<path d="M491.7 1016.5 Q505.3 1004.7 518.9 1016.5" fill="none" stroke="#555" stroke-width="0.8" stroke-dasharray="2.2 1.8"/>
<path d="M522.9 1016.5 Q536.25 1004.7 549.6 1016.5" fill="none" stroke="#555" stroke-width="0.8" stroke-dasharray="2.2 1.8"/>
<path d="M553.6 1016.5 Q566.6 1004.7 579.6 1016.5" fill="none" stroke="#555" stroke-width="0.8" stroke-dasharray="2.2 1.8"/>
<path d="M583.6 1016.5 Q596.6 1004.7 609.6 1016.5" fill="none" stroke="#555" stroke-width="0.8" stroke-dasharray="2.2 1.8"/>
<path d="M613.6 1016.5 Q626.05 1004.7 638.5 1016.5" fill="none" stroke="#555" stroke-width="0.8" stroke-dasharray="2.2 1.8"/>
<path d="M673.6 1016.5 Q691.9 1004.7 710.2 1016.5" fill="none" stroke="#555" stroke-width="0.8" stroke-dasharray="2.2 1.8"/>
<path d="M714.2 1016.5 Q730.2 1004.7 746.2 1016.5" fill="none" stroke="#555" stroke-width="0.8" stroke-dasharray="2.2 1.8"/>
<path d="M750.2 1016.5 Q763.75 1004.7 777.3 1016.5" fill="none" stroke="#555" stroke-width="0.8" stroke-dasharray="2.2 1.8"/>
<path d="M781.3 1016.5 Q792.65 1004.7 804 1016.5" fill="none" stroke="#555" stroke-width="0.8" stroke-dasharray="2.2 1.8"/>
<ellipse cx="245.7" cy="1073.6" rx="2.1" ry="1.6" fill="#111" transform="rotate(-20 245.7 1073.6)"/>
<line x1="243.9" y1="1073.8" x2="243.9" y2="1082.8" stroke="#111" stroke-width="0.8"/>
<path d="M243.9 1082.8 L247.9 1080 M243.9 1078 L247.9 1080" fill="none" stroke="#111" stroke-width="0.8"/>
<text x="272.6" y="1075.2" font-size="7.5" font-family="'DejaVu Sans','Liberation Sans',sans-serif" fill="#222">♭</text>
<path d="M277.2 1072.6 L281.6 1070.3 L281.6 1074.9 Z M287 1072.6 L282.6 1070.3 L282.6 1074.9 Z" fill="#111" stroke="#111" stroke-width="0.4"/>
<line x1="278.1" y1="1069.4" x2="278.1" y2="1075.9" stroke="#666" stroke-width="0.7"/>
<line x1="286.1" y1="1069.4" x2="286.1" y2="1075.9" stroke="#666" stroke-width="0.7"/>
<line x1="277.3" y1="1075.9" x2="286.9" y2="1075.9" stroke="#777" stroke-width="0.8"/>
<ellipse cx="483" cy="1073.6" rx="2.1" ry="1.6" fill="#111" transform="rotate(-20 483 1073.6)"/>
<line x1="481.2" y1="1073.8" x2="481.2" y2="1082.8" stroke="#111" stroke-width="0.8"/>
<path d="M481.2 1082.8 L485.2 1080 M481.2 1078 L485.2 1080" fill="none" stroke="#111" stroke-width="0.8"/>
<text x="545" y="1075.2" font-size="7.5" font-family="'DejaVu Sans','Liberation Sans',sans-serif" fill="#222">♭</text>
<path d="M549.6 1072.6 L554 1070.3 L554 1074.9 Z M559.4 1072.6 L555 1070.3 L555 1074.9 Z" fill="#111" stroke="#111" stroke-width="0.4"/>
<line x1="550.5" y1="1069.4" x2="550.5" y2="1075.9" stroke="#666" stroke-width="0.7"/>
<line x1="558.5" y1="1069.4" x2="558.5" y2="1075.9" stroke="#666" stroke-width="0.7"/>
<line x1="549.7" y1="1075.9" x2="559.3" y2="1075.9" stroke="#777" stroke-width="0.8"/>
<ellipse cx="742.2" cy="1073.6" rx="2.1" ry="1.6" fill="#111" transform="rotate(-20 742.2 1073.6)"/>
<line x1="740.4" y1="1073.8" x2="740.4" y2="1082.8" stroke="#111" stroke-width="0.8"/>
<path d="M740.4 1082.8 L744.4 1080 M740.4 1078 L744.4 1080" fill="none" stroke="#111" stroke-width="0.8"/>
<rect x="96" y="1088.2" width="47" height="8.8" fill="none" stroke="#444" stroke-width="0.8"/>
<text x="98.2" y="1095.4" font-size="7.6" font-family="'DejaVu Sans','Liberation Sans',sans-serif" fill="#111" textLength="42.6" lengthAdjust="spacingAndGlyphs">Depress pedal</text>
<text x="155.3" y="1094.2" font-size="6.3" font-family="'DejaVu Sans','Liberation Sans',sans-serif" fill="#222" textLength="138" lengthAdjust="spacingAndGlyphs">all attacks: sempre <tspan font-weight="bold" font-style="italic">sfz</tspan> <tspan font-style="italic">secco</tspan>, ca 2 - 3" between attacks</text>
<line x1="155.3" y1="1095" x2="188.5" y2="1095" stroke="#555" stroke-width="0.5"/>
<text x="74.7" y="1120.3" font-size="9" font-family="'DejaVu Sans','Liberation Sans',sans-serif" fill="#111" text-anchor="end" textLength="39.9" lengthAdjust="spacingAndGlyphs">str. pitches</text>
<line x1="85.6" y1="1111.3" x2="133.7" y2="1111.3" stroke="#444" stroke-width="0.7"/>
<line x1="85.6" y1="1113.8" x2="133.7" y2="1113.8" stroke="#444" stroke-width="0.7"/>
<line x1="85.6" y1="1116.3" x2="133.7" y2="1116.3" stroke="#444" stroke-width="0.7"/>
<line x1="85.6" y1="1118.8" x2="133.7" y2="1118.8" stroke="#444" stroke-width="0.7"/>
<line x1="85.6" y1="1121.3" x2="133.7" y2="1121.3" stroke="#444" stroke-width="0.7"/>
<g transform="translate(88.6 1107.3) scale(0.91)"><path d="M5.6 14.6 C4.2 15 3.2 13.8 3.8 12.4 C4.6 10.6 8 10.6 8.8 13.4 C9.6 16.6 7 19.2 4.4 19 C1.6 18.8 0 16.4 0.6 13.6 C1.4 10.2 5.8 8.2 6.8 4.6 C7.4 2.2 7 -0.8 6 -0.8 C4.8 -0.8 4.2 1.8 4.3 4.6 L5.8 20.4 C6 22.2 5 23.2 3.9 23" fill="none" stroke="#111" stroke-width="1.2" stroke-linecap="round" stroke-linejoin="round"/><circle cx="3.5" cy="22.3" r="1.45" fill="#111"/></g>
<line x1="133.4" y1="1111" x2="133.4" y2="1121.6" stroke="#111" stroke-width="1.8"/>
<line x1="157" y1="1110.2" x2="207.6" y2="1110.2" stroke="#555" stroke-width="0.75"/>
<line x1="157" y1="1113" x2="207.6" y2="1113" stroke="#555" stroke-width="0.75"/>
<line x1="157" y1="1115.8" x2="207.6" y2="1115.8" stroke="#555" stroke-width="0.75"/>
<line x1="157" y1="1118.6" x2="207.6" y2="1118.6" stroke="#555" stroke-width="0.75"/>
<line x1="157" y1="1121.4" x2="207.6" y2="1121.4" stroke="#555" stroke-width="0.75"/>
<line x1="171.2" y1="1110.2" x2="171.2" y2="1121.4" stroke="#888" stroke-width="0.6"/>
<ellipse cx="163" cy="1125.1" rx="2.5" ry="1.8" fill="#111" transform="rotate(-20 163 1125.1)"/>
<text x="155.4" y="1127.5" font-size="7.6" font-family="'DejaVu Sans','Liberation Sans',sans-serif" fill="#222">♭</text>
<path d="M161 1128.2 L165 1129.3 L161 1130.4" fill="none" stroke="#666" stroke-width="0.55"/>
<ellipse cx="183.4" cy="1117" rx="2.5" ry="1.8" fill="#111" transform="rotate(-20 183.4 1117)"/>
<path d="M181.4 1120.1 L185.4 1121.2 L181.4 1122.3" fill="none" stroke="#666" stroke-width="0.55"/>
<ellipse cx="198.2" cy="1104.9" rx="2.5" ry="1.8" fill="#111" transform="rotate(-20 198.2 1104.9)"/>
<text x="190.6" y="1107.3" font-size="7.6" font-family="'DejaVu Sans','Liberation Sans',sans-serif" fill="#222">♭</text>
<path d="M196.2 1099.2 L200.2 1100.3 L196.2 1101.4" fill="none" stroke="#666" stroke-width="0.55"/>
<path d="M201.2 1102.9 Q205.2 1099.9 209.2 1101.9" fill="none" stroke="#444" stroke-width="0.7"/>
<line x1="231" y1="1116" x2="246" y2="1116" stroke="#222" stroke-width="1.1"/>
<path d="M242 1112.5 L246 1116 L242 1119.5" fill="none" stroke="#222" stroke-width="1"/>
<line x1="291.3" y1="1110.2" x2="341.6" y2="1110.2" stroke="#555" stroke-width="0.75"/>
<line x1="291.3" y1="1113" x2="341.6" y2="1113" stroke="#555" stroke-width="0.75"/>
<line x1="291.3" y1="1115.8" x2="341.6" y2="1115.8" stroke="#555" stroke-width="0.75"/>
<line x1="291.3" y1="1118.6" x2="341.6" y2="1118.6" stroke="#555" stroke-width="0.75"/>
<line x1="291.3" y1="1121.4" x2="341.6" y2="1121.4" stroke="#555" stroke-width="0.75"/>
<line x1="304" y1="1110.2" x2="304" y2="1121.4" stroke="#888" stroke-width="0.6"/>
<ellipse cx="297" cy="1125" rx="2.5" ry="1.8" fill="#111" transform="rotate(-20 297 1125)"/>
<text x="289.4" y="1127.4" font-size="7.6" font-family="'DejaVu Sans','Liberation Sans',sans-serif" fill="#222">♭</text>
<path d="M295 1128.1 L299 1129.2 L295 1130.3" fill="none" stroke="#666" stroke-width="0.55"/>
<ellipse cx="314.7" cy="1114.6" rx="2.5" ry="1.8" fill="#111" transform="rotate(-20 314.7 1114.6)"/>
<text x="307.1" y="1117" font-size="7.6" font-family="'DejaVu Sans','Liberation Sans',sans-serif" fill="#222">♭</text>
<path d="M312.7 1108.9 L316.7 1110 L312.7 1111.1" fill="none" stroke="#666" stroke-width="0.55"/>
<ellipse cx="330.7" cy="1104.5" rx="2.5" ry="1.8" fill="#111" transform="rotate(-20 330.7 1104.5)"/>
<text x="323.1" y="1106.9" font-size="7.6" font-family="'DejaVu Sans','Liberation Sans',sans-serif" fill="#222">♭</text>
<path d="M328.7 1098.8 L332.7 1099.9 L328.7 1101" fill="none" stroke="#666" stroke-width="0.55"/>
<path d="M333.7 1102.5 Q337.7 1099.5 341.7 1101.5" fill="none" stroke="#444" stroke-width="0.7"/>
<line x1="364.7" y1="1115" x2="380.3" y2="1115" stroke="#222" stroke-width="1.1"/>
<path d="M376.3 1111.5 L380.3 1115 L376.3 1118.5" fill="none" stroke="#222" stroke-width="1"/>
<line x1="402.9" y1="1110.2" x2="462.3" y2="1110.2" stroke="#555" stroke-width="0.75"/>
<line x1="402.9" y1="1113" x2="462.3" y2="1113" stroke="#555" stroke-width="0.75"/>
<line x1="402.9" y1="1115.8" x2="462.3" y2="1115.8" stroke="#555" stroke-width="0.75"/>
<line x1="402.9" y1="1118.6" x2="462.3" y2="1118.6" stroke="#555" stroke-width="0.75"/>
<line x1="402.9" y1="1121.4" x2="462.3" y2="1121.4" stroke="#555" stroke-width="0.75"/>
<line x1="402.9" y1="1109.9" x2="402.9" y2="1121.7" stroke="#111" stroke-width="1.9"/>
<line x1="440.2" y1="1110.2" x2="440.2" y2="1121.4" stroke="#888" stroke-width="0.6"/>
<ellipse cx="414.3" cy="1125.3" rx="2.5" ry="1.8" fill="#111" transform="rotate(-20 414.3 1125.3)"/>
<text x="406.7" y="1127.7" font-size="7.6" font-family="'DejaVu Sans','Liberation Sans',sans-serif" fill="#222">♭</text>
<path d="M412.3 1128.4 L416.3 1129.5 L412.3 1130.6" fill="none" stroke="#666" stroke-width="0.55"/>
<ellipse cx="428.9" cy="1114.3" rx="2.5" ry="1.8" fill="#111" transform="rotate(-20 428.9 1114.3)"/>
<text x="421.3" y="1116.7" font-size="7.6" font-family="'DejaVu Sans','Liberation Sans',sans-serif" fill="#222">♭</text>
<path d="M426.9 1108.6 L430.9 1109.7 L426.9 1110.8" fill="none" stroke="#666" stroke-width="0.55"/>
<ellipse cx="451" cy="1107.2" rx="2.5" ry="1.8" fill="#111" transform="rotate(-20 451 1107.2)"/>
<text x="443.4" y="1109.6" font-size="7.6" font-family="'DejaVu Sans','Liberation Sans',sans-serif" fill="#222">♭</text>
<path d="M449 1101.5 L453 1102.6 L449 1103.7" fill="none" stroke="#666" stroke-width="0.55"/>
<path d="M454 1105.2 Q458 1102.2 462 1104.2" fill="none" stroke="#444" stroke-width="0.7"/>
<line x1="489" y1="1115" x2="504.6" y2="1115" stroke="#222" stroke-width="1.1"/>
<path d="M500.6 1111.5 L504.6 1115 L500.6 1118.5" fill="none" stroke="#222" stroke-width="1"/>
<line x1="659.9" y1="1110.2" x2="721.5" y2="1110.2" stroke="#555" stroke-width="0.75"/>
<line x1="659.9" y1="1113" x2="721.5" y2="1113" stroke="#555" stroke-width="0.75"/>
<line x1="659.9" y1="1115.8" x2="721.5" y2="1115.8" stroke="#555" stroke-width="0.75"/>
<line x1="659.9" y1="1118.6" x2="721.5" y2="1118.6" stroke="#555" stroke-width="0.75"/>
<line x1="659.9" y1="1121.4" x2="721.5" y2="1121.4" stroke="#555" stroke-width="0.75"/>
<line x1="659.9" y1="1109.9" x2="659.9" y2="1121.7" stroke="#111" stroke-width="1.9"/>
<line x1="696.8" y1="1110.2" x2="696.8" y2="1121.4" stroke="#888" stroke-width="0.6"/>
<ellipse cx="671.8" cy="1125.3" rx="2.5" ry="1.8" fill="#111" transform="rotate(-20 671.8 1125.3)"/>
<text x="664.2" y="1127.7" font-size="7.6" font-family="'DejaVu Sans','Liberation Sans',sans-serif" fill="#222">♭</text>
<path d="M669.8 1128.4 L673.8 1129.5 L669.8 1130.6" fill="none" stroke="#666" stroke-width="0.55"/>
<ellipse cx="688.1" cy="1114.4" rx="2.5" ry="1.8" fill="#111" transform="rotate(-20 688.1 1114.4)"/>
<text x="680.5" y="1116.8" font-size="7.6" font-family="'DejaVu Sans','Liberation Sans',sans-serif" fill="#222">♭</text>
<path d="M686.1 1108.7 L690.1 1109.8 L686.1 1110.9" fill="none" stroke="#666" stroke-width="0.55"/>
<ellipse cx="711.6" cy="1106.3" rx="2.5" ry="1.8" fill="#111" transform="rotate(-20 711.6 1106.3)"/>
<text x="704" y="1108.7" font-size="7.6" font-family="'DejaVu Sans','Liberation Sans',sans-serif" fill="#222">♭</text>
<path d="M709.6 1100.6 L713.6 1101.7 L709.6 1102.8" fill="none" stroke="#666" stroke-width="0.55"/>
<path d="M714.6 1104.3 Q718.6 1101.3 722.6 1103.3" fill="none" stroke="#444" stroke-width="0.7"/>
<line x1="751" y1="1115" x2="766.7" y2="1115" stroke="#222" stroke-width="1.1"/>
<path d="M762.7 1111.5 L766.7 1115 L762.7 1118.5" fill="none" stroke="#222" stroke-width="1"/></svg>
</body></html>
